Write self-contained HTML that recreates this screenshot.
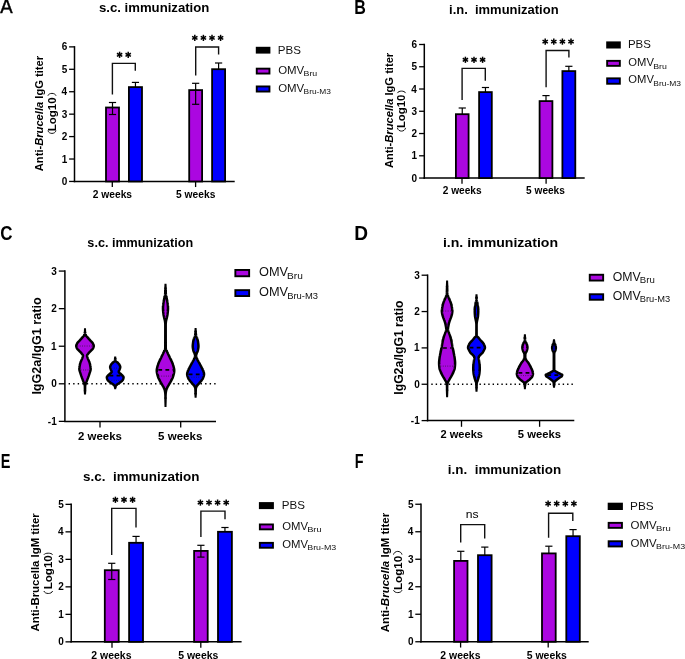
<!DOCTYPE html><html><head><meta charset="utf-8"><style>html,body{margin:0;padding:0;background:#fff;overflow:hidden}svg{display:block;will-change:transform}</style></head><body>
<svg width="685" height="659" viewBox="0 0 685 659" font-family="'Liberation Sans', sans-serif" style="font-kerning:none">
<rect width="685" height="659" fill="#fff"/>
<line x1="74.50" y1="46.12" x2="74.50" y2="182.20" stroke="#000" stroke-width="1.5" />
<line x1="73.75" y1="181.45" x2="234.70" y2="181.45" stroke="#000" stroke-width="1.5" />
<line x1="69.10" y1="181.45" x2="74.50" y2="181.45" stroke="#000" stroke-width="1.3" />
<text x="61.80" y="185.03" font-size="10" font-weight="bold" fill="#000"  xml:space="preserve">0</text>
<line x1="69.10" y1="159.02" x2="74.50" y2="159.02" stroke="#000" stroke-width="1.3" />
<text x="61.70" y="162.60" font-size="10" font-weight="bold" fill="#000"  xml:space="preserve">1</text>
<line x1="69.10" y1="136.59" x2="74.50" y2="136.59" stroke="#000" stroke-width="1.3" />
<text x="61.80" y="140.17" font-size="10" font-weight="bold" fill="#000"  xml:space="preserve">2</text>
<line x1="69.10" y1="114.16" x2="74.50" y2="114.16" stroke="#000" stroke-width="1.3" />
<text x="61.80" y="117.74" font-size="10" font-weight="bold" fill="#000"  xml:space="preserve">3</text>
<line x1="69.10" y1="91.73" x2="74.50" y2="91.73" stroke="#000" stroke-width="1.3" />
<text x="61.50" y="95.31" font-size="10" font-weight="bold" fill="#000"  xml:space="preserve">4</text>
<line x1="69.10" y1="69.30" x2="74.50" y2="69.30" stroke="#000" stroke-width="1.3" />
<text x="61.70" y="72.88" font-size="10" font-weight="bold" fill="#000"  xml:space="preserve">5</text>
<line x1="69.10" y1="46.87" x2="74.50" y2="46.87" stroke="#000" stroke-width="1.3" />
<text x="61.80" y="50.45" font-size="10" font-weight="bold" fill="#000"  xml:space="preserve">6</text>
<line x1="112.30" y1="181.45" x2="112.30" y2="187.05" stroke="#000" stroke-width="1.3" />
<line x1="195.60" y1="181.45" x2="195.60" y2="187.05" stroke="#000" stroke-width="1.3" />
<text x="92.79" y="197.80" font-size="10" font-weight="bold" textLength="39.28" lengthAdjust="spacingAndGlyphs" fill="#000"  xml:space="preserve">2 weeks</text>
<text x="176.09" y="197.80" font-size="10" font-weight="bold" textLength="39.28" lengthAdjust="spacingAndGlyphs" fill="#000"  xml:space="preserve">5 weeks</text>
<rect x="106.00" y="107.50" width="13.00" height="73.95" fill="#AB07E0" stroke="#000" stroke-width="1.8"/>
<line x1="112.50" y1="102.50" x2="112.50" y2="107.60" stroke="#000" stroke-width="1.2" />
<line x1="108.90" y1="102.50" x2="116.10" y2="102.50" stroke="#000" stroke-width="1.2" />
<line x1="112.50" y1="106.60" x2="112.50" y2="114.50" stroke="#000" stroke-width="1.2" />
<line x1="108.90" y1="114.50" x2="116.10" y2="114.50" stroke="#000" stroke-width="1.2" />
<rect x="128.90" y="87.10" width="13.10" height="94.35" fill="#0000FF" stroke="#000" stroke-width="1.8"/>
<line x1="135.45" y1="82.40" x2="135.45" y2="87.20" stroke="#000" stroke-width="1.2" />
<line x1="131.85" y1="82.40" x2="139.05" y2="82.40" stroke="#000" stroke-width="1.2" />
<rect x="189.20" y="90.10" width="12.90" height="91.35" fill="#AB07E0" stroke="#000" stroke-width="1.8"/>
<line x1="195.65" y1="83.30" x2="195.65" y2="90.20" stroke="#000" stroke-width="1.2" />
<line x1="192.05" y1="83.30" x2="199.25" y2="83.30" stroke="#000" stroke-width="1.2" />
<line x1="195.65" y1="89.20" x2="195.65" y2="104.30" stroke="#000" stroke-width="1.2" />
<line x1="192.05" y1="104.30" x2="199.25" y2="104.30" stroke="#000" stroke-width="1.2" />
<rect x="212.10" y="69.20" width="13.00" height="112.25" fill="#0000FF" stroke="#000" stroke-width="1.8"/>
<line x1="218.60" y1="63.00" x2="218.60" y2="69.30" stroke="#000" stroke-width="1.2" />
<line x1="215.00" y1="63.00" x2="222.20" y2="63.00" stroke="#000" stroke-width="1.2" />
<polyline points="112.40,94.40 112.40,63.40 135.30,63.40 135.30,70.80" fill="none" stroke="#111" stroke-width="1.4"/>
<line x1="119.60" y1="51.70" x2="119.60" y2="57.90" stroke="#000" stroke-width="1.5" />
<line x1="116.92" y1="53.25" x2="122.28" y2="56.35" stroke="#000" stroke-width="1.5" />
<line x1="122.28" y1="53.25" x2="116.92" y2="56.35" stroke="#000" stroke-width="1.5" />
<line x1="128.20" y1="51.70" x2="128.20" y2="57.90" stroke="#000" stroke-width="1.5" />
<line x1="125.52" y1="53.25" x2="130.88" y2="56.35" stroke="#000" stroke-width="1.5" />
<line x1="130.88" y1="53.25" x2="125.52" y2="56.35" stroke="#000" stroke-width="1.5" />
<polyline points="195.70,75.60 195.70,47.00 218.60,47.00 218.60,54.60" fill="none" stroke="#111" stroke-width="1.4"/>
<line x1="194.80" y1="34.80" x2="194.80" y2="41.00" stroke="#000" stroke-width="1.5" />
<line x1="192.12" y1="36.35" x2="197.48" y2="39.45" stroke="#000" stroke-width="1.5" />
<line x1="197.48" y1="36.35" x2="192.12" y2="39.45" stroke="#000" stroke-width="1.5" />
<line x1="203.40" y1="34.80" x2="203.40" y2="41.00" stroke="#000" stroke-width="1.5" />
<line x1="200.72" y1="36.35" x2="206.08" y2="39.45" stroke="#000" stroke-width="1.5" />
<line x1="206.08" y1="36.35" x2="200.72" y2="39.45" stroke="#000" stroke-width="1.5" />
<line x1="212.00" y1="34.80" x2="212.00" y2="41.00" stroke="#000" stroke-width="1.5" />
<line x1="209.32" y1="36.35" x2="214.68" y2="39.45" stroke="#000" stroke-width="1.5" />
<line x1="214.68" y1="36.35" x2="209.32" y2="39.45" stroke="#000" stroke-width="1.5" />
<line x1="220.60" y1="34.80" x2="220.60" y2="41.00" stroke="#000" stroke-width="1.5" />
<line x1="217.92" y1="36.35" x2="223.28" y2="39.45" stroke="#000" stroke-width="1.5" />
<line x1="223.28" y1="36.35" x2="217.92" y2="39.45" stroke="#000" stroke-width="1.5" />
<text x="98.96" y="12.40" font-size="12" font-weight="bold" textLength="110.39" lengthAdjust="spacingAndGlyphs" fill="#000"  xml:space="preserve">s.c. immunization</text>
<rect x="256.75" y="47.75" width="12.70" height="4.90" fill="#000" stroke="#000" stroke-width="1.9"/>
<rect x="256.75" y="68.65" width="12.70" height="4.90" fill="#AB07E0" stroke="#000" stroke-width="1.9"/>
<rect x="256.75" y="86.45" width="12.70" height="5.10" fill="#0000FF" stroke="#000" stroke-width="1.9"/>
<text x="277.75" y="53.80" font-size="11" textLength="23.19" lengthAdjust="spacingAndGlyphs" fill="#111"  xml:space="preserve">PBS</text>
<text x="278.18" y="73.70" font-size="11" textLength="26.08" lengthAdjust="spacingAndGlyphs" fill="#111"  xml:space="preserve">OMV</text>
<text x="303.54" y="76.10" font-size="8" textLength="13.66" lengthAdjust="spacingAndGlyphs" fill="#111"  xml:space="preserve">Bru</text>
<text x="278.18" y="91.70" font-size="11" textLength="26.08" lengthAdjust="spacingAndGlyphs" fill="#111"  xml:space="preserve">OMV</text>
<text x="303.57" y="93.60" font-size="8" textLength="27.37" lengthAdjust="spacingAndGlyphs" fill="#111"  xml:space="preserve">Bru-M3</text>
<g transform="rotate(-90)">
<text x="-171.20" y="42.90" font-size="11" font-weight="bold" textLength="25.41" lengthAdjust="spacingAndGlyphs" fill="#000"  xml:space="preserve">Anti-</text>
<text x="-145.80" y="42.90" font-size="11" font-weight="bold" font-style="italic" textLength="44.04" lengthAdjust="spacingAndGlyphs" fill="#000"  xml:space="preserve">Brucella</text>
<text x="-101.76" y="42.90" font-size="11" font-weight="bold" textLength="45.88" lengthAdjust="spacingAndGlyphs" fill="#000"  xml:space="preserve"> IgG titer</text>
</g>
<g transform="rotate(-90)">
<text x="-131.23" y="56.10" font-size="11" font-weight="bold" textLength="33.74" lengthAdjust="spacingAndGlyphs" fill="#000"  xml:space="preserve">Log10</text>
</g>
<path d="M47.90,95.70 C48.87,92.63 55.03,92.63 56.00,95.70" fill="none" stroke="#111" stroke-width="1.0"/>
<path d="M47.90,130.60 C48.87,134.33 55.03,134.33 56.00,130.60" fill="none" stroke="#111" stroke-width="1.0"/>
<line x1="424.30" y1="43.74" x2="424.30" y2="178.80" stroke="#000" stroke-width="1.5" />
<line x1="423.55" y1="178.05" x2="584.70" y2="178.05" stroke="#000" stroke-width="1.5" />
<line x1="419.10" y1="178.05" x2="424.30" y2="178.05" stroke="#000" stroke-width="1.3" />
<text x="411.60" y="181.63" font-size="10" font-weight="bold" fill="#000"  xml:space="preserve">0</text>
<line x1="419.10" y1="155.79" x2="424.30" y2="155.79" stroke="#000" stroke-width="1.3" />
<text x="411.50" y="159.37" font-size="10" font-weight="bold" fill="#000"  xml:space="preserve">1</text>
<line x1="419.10" y1="133.53" x2="424.30" y2="133.53" stroke="#000" stroke-width="1.3" />
<text x="411.60" y="137.11" font-size="10" font-weight="bold" fill="#000"  xml:space="preserve">2</text>
<line x1="419.10" y1="111.27" x2="424.30" y2="111.27" stroke="#000" stroke-width="1.3" />
<text x="411.60" y="114.85" font-size="10" font-weight="bold" fill="#000"  xml:space="preserve">3</text>
<line x1="419.10" y1="89.01" x2="424.30" y2="89.01" stroke="#000" stroke-width="1.3" />
<text x="411.30" y="92.59" font-size="10" font-weight="bold" fill="#000"  xml:space="preserve">4</text>
<line x1="419.10" y1="66.75" x2="424.30" y2="66.75" stroke="#000" stroke-width="1.3" />
<text x="411.50" y="70.33" font-size="10" font-weight="bold" fill="#000"  xml:space="preserve">5</text>
<line x1="419.10" y1="44.49" x2="424.30" y2="44.49" stroke="#000" stroke-width="1.3" />
<text x="411.60" y="48.07" font-size="10" font-weight="bold" fill="#000"  xml:space="preserve">6</text>
<line x1="462.00" y1="178.05" x2="462.00" y2="183.65" stroke="#000" stroke-width="1.3" />
<line x1="546.10" y1="178.05" x2="546.10" y2="183.65" stroke="#000" stroke-width="1.3" />
<text x="442.70" y="193.90" font-size="10" font-weight="bold" textLength="38.87" lengthAdjust="spacingAndGlyphs" fill="#000"  xml:space="preserve">2 weeks</text>
<text x="526.10" y="193.90" font-size="10" font-weight="bold" textLength="38.77" lengthAdjust="spacingAndGlyphs" fill="#000"  xml:space="preserve">5 weeks</text>
<rect x="455.90" y="114.20" width="12.70" height="63.85" fill="#AB07E0" stroke="#000" stroke-width="1.8"/>
<line x1="462.25" y1="108.00" x2="462.25" y2="114.30" stroke="#000" stroke-width="1.2" />
<line x1="458.65" y1="108.00" x2="465.85" y2="108.00" stroke="#000" stroke-width="1.2" />
<rect x="479.10" y="92.10" width="12.70" height="85.95" fill="#0000FF" stroke="#000" stroke-width="1.8"/>
<line x1="485.45" y1="87.50" x2="485.45" y2="92.20" stroke="#000" stroke-width="1.2" />
<line x1="481.85" y1="87.50" x2="489.05" y2="87.50" stroke="#000" stroke-width="1.2" />
<rect x="539.60" y="101.10" width="12.80" height="76.95" fill="#AB07E0" stroke="#000" stroke-width="1.8"/>
<line x1="546.00" y1="95.60" x2="546.00" y2="101.20" stroke="#000" stroke-width="1.2" />
<line x1="542.40" y1="95.60" x2="549.60" y2="95.60" stroke="#000" stroke-width="1.2" />
<rect x="562.40" y="71.10" width="12.90" height="106.95" fill="#0000FF" stroke="#000" stroke-width="1.8"/>
<line x1="568.85" y1="66.30" x2="568.85" y2="71.20" stroke="#000" stroke-width="1.2" />
<line x1="565.25" y1="66.30" x2="572.45" y2="66.30" stroke="#000" stroke-width="1.2" />
<polyline points="462.10,100.00 462.10,68.40 485.30,68.40 485.30,80.70" fill="none" stroke="#111" stroke-width="1.4"/>
<line x1="465.40" y1="56.70" x2="465.40" y2="62.90" stroke="#000" stroke-width="1.5" />
<line x1="462.72" y1="58.25" x2="468.08" y2="61.35" stroke="#000" stroke-width="1.5" />
<line x1="468.08" y1="58.25" x2="462.72" y2="61.35" stroke="#000" stroke-width="1.5" />
<line x1="474.00" y1="56.70" x2="474.00" y2="62.90" stroke="#000" stroke-width="1.5" />
<line x1="471.32" y1="58.25" x2="476.68" y2="61.35" stroke="#000" stroke-width="1.5" />
<line x1="476.68" y1="58.25" x2="471.32" y2="61.35" stroke="#000" stroke-width="1.5" />
<line x1="482.60" y1="56.70" x2="482.60" y2="62.90" stroke="#000" stroke-width="1.5" />
<line x1="479.92" y1="58.25" x2="485.28" y2="61.35" stroke="#000" stroke-width="1.5" />
<line x1="485.28" y1="58.25" x2="479.92" y2="61.35" stroke="#000" stroke-width="1.5" />
<polyline points="546.10,87.30 546.10,50.50 568.90,50.50 568.90,57.60" fill="none" stroke="#111" stroke-width="1.4"/>
<line x1="545.20" y1="38.50" x2="545.20" y2="44.70" stroke="#000" stroke-width="1.5" />
<line x1="542.52" y1="40.05" x2="547.88" y2="43.15" stroke="#000" stroke-width="1.5" />
<line x1="547.88" y1="40.05" x2="542.52" y2="43.15" stroke="#000" stroke-width="1.5" />
<line x1="553.80" y1="38.50" x2="553.80" y2="44.70" stroke="#000" stroke-width="1.5" />
<line x1="551.12" y1="40.05" x2="556.48" y2="43.15" stroke="#000" stroke-width="1.5" />
<line x1="556.48" y1="40.05" x2="551.12" y2="43.15" stroke="#000" stroke-width="1.5" />
<line x1="562.40" y1="38.50" x2="562.40" y2="44.70" stroke="#000" stroke-width="1.5" />
<line x1="559.72" y1="40.05" x2="565.08" y2="43.15" stroke="#000" stroke-width="1.5" />
<line x1="565.08" y1="40.05" x2="559.72" y2="43.15" stroke="#000" stroke-width="1.5" />
<line x1="571.00" y1="38.50" x2="571.00" y2="44.70" stroke="#000" stroke-width="1.5" />
<line x1="568.32" y1="40.05" x2="573.68" y2="43.15" stroke="#000" stroke-width="1.5" />
<line x1="573.68" y1="40.05" x2="568.32" y2="43.15" stroke="#000" stroke-width="1.5" />
<text x="449.04" y="13.60" font-size="12" font-weight="bold" textLength="109.56" lengthAdjust="spacingAndGlyphs" fill="#000"  xml:space="preserve">i.n.  immunization</text>
<rect x="607.15" y="42.35" width="12.70" height="5.20" fill="#000" stroke="#000" stroke-width="1.9"/>
<rect x="607.15" y="60.85" width="12.70" height="5.00" fill="#AB07E0" stroke="#000" stroke-width="1.9"/>
<rect x="607.15" y="78.35" width="12.70" height="5.40" fill="#0000FF" stroke="#000" stroke-width="1.9"/>
<text x="627.96" y="48.30" font-size="11" textLength="22.97" lengthAdjust="spacingAndGlyphs" fill="#111"  xml:space="preserve">PBS</text>
<text x="628.39" y="66.00" font-size="11" textLength="25.57" lengthAdjust="spacingAndGlyphs" fill="#111"  xml:space="preserve">OMV</text>
<text x="653.24" y="68.50" font-size="8" textLength="13.66" lengthAdjust="spacingAndGlyphs" fill="#111"  xml:space="preserve">Bru</text>
<text x="628.39" y="83.40" font-size="11" textLength="25.57" lengthAdjust="spacingAndGlyphs" fill="#111"  xml:space="preserve">OMV</text>
<text x="653.27" y="85.70" font-size="8" textLength="27.68" lengthAdjust="spacingAndGlyphs" fill="#111"  xml:space="preserve">Bru-M3</text>
<g transform="rotate(-90)">
<text x="-168.10" y="392.80" font-size="11" font-weight="bold" textLength="25.41" lengthAdjust="spacingAndGlyphs" fill="#000"  xml:space="preserve">Anti-</text>
<text x="-142.70" y="392.80" font-size="11" font-weight="bold" font-style="italic" textLength="44.04" lengthAdjust="spacingAndGlyphs" fill="#000"  xml:space="preserve">Brucella</text>
<text x="-98.66" y="392.80" font-size="11" font-weight="bold" textLength="45.88" lengthAdjust="spacingAndGlyphs" fill="#000"  xml:space="preserve"> IgG titer</text>
</g>
<g transform="rotate(-90)">
<text x="-128.12" y="405.40" font-size="11" font-weight="bold" textLength="33.53" lengthAdjust="spacingAndGlyphs" fill="#000"  xml:space="preserve">Log10</text>
</g>
<path d="M397.40,93.10 C398.38,90.43 404.62,90.43 405.60,93.10" fill="none" stroke="#111" stroke-width="1.0"/>
<path d="M397.40,127.90 C398.38,132.17 404.62,132.17 405.60,127.90" fill="none" stroke="#111" stroke-width="1.0"/>
<line x1="71.20" y1="503.60" x2="71.20" y2="642.60" stroke="#000" stroke-width="1.5" />
<line x1="70.45" y1="641.85" x2="241.60" y2="641.85" stroke="#000" stroke-width="1.5" />
<line x1="65.50" y1="641.85" x2="71.20" y2="641.85" stroke="#000" stroke-width="1.3" />
<text x="58.30" y="645.43" font-size="10" font-weight="bold" fill="#000"  xml:space="preserve">0</text>
<line x1="65.50" y1="614.35" x2="71.20" y2="614.35" stroke="#000" stroke-width="1.3" />
<text x="58.20" y="617.93" font-size="10" font-weight="bold" fill="#000"  xml:space="preserve">1</text>
<line x1="65.50" y1="586.85" x2="71.20" y2="586.85" stroke="#000" stroke-width="1.3" />
<text x="58.30" y="590.43" font-size="10" font-weight="bold" fill="#000"  xml:space="preserve">2</text>
<line x1="65.50" y1="559.35" x2="71.20" y2="559.35" stroke="#000" stroke-width="1.3" />
<text x="58.30" y="562.93" font-size="10" font-weight="bold" fill="#000"  xml:space="preserve">3</text>
<line x1="65.50" y1="531.85" x2="71.20" y2="531.85" stroke="#000" stroke-width="1.3" />
<text x="58.00" y="535.43" font-size="10" font-weight="bold" fill="#000"  xml:space="preserve">4</text>
<line x1="65.50" y1="504.35" x2="71.20" y2="504.35" stroke="#000" stroke-width="1.3" />
<text x="58.20" y="507.93" font-size="10" font-weight="bold" fill="#000"  xml:space="preserve">5</text>
<line x1="112.00" y1="641.85" x2="112.00" y2="647.65" stroke="#000" stroke-width="1.3" />
<line x1="200.80" y1="641.85" x2="200.80" y2="647.65" stroke="#000" stroke-width="1.3" />
<text x="91.29" y="659.00" font-size="10" font-weight="bold" textLength="40.19" lengthAdjust="spacingAndGlyphs" fill="#000"  xml:space="preserve">2 weeks</text>
<text x="178.19" y="659.00" font-size="10" font-weight="bold" textLength="40.19" lengthAdjust="spacingAndGlyphs" fill="#000"  xml:space="preserve">5 weeks</text>
<rect x="104.80" y="570.20" width="13.90" height="71.65" fill="#AB07E0" stroke="#000" stroke-width="1.8"/>
<line x1="111.75" y1="563.30" x2="111.75" y2="570.30" stroke="#000" stroke-width="1.2" />
<line x1="108.15" y1="563.30" x2="115.35" y2="563.30" stroke="#000" stroke-width="1.2" />
<line x1="111.75" y1="569.30" x2="111.75" y2="579.50" stroke="#000" stroke-width="1.2" />
<line x1="108.15" y1="579.50" x2="115.35" y2="579.50" stroke="#000" stroke-width="1.2" />
<rect x="129.10" y="542.80" width="13.90" height="99.05" fill="#0000FF" stroke="#000" stroke-width="1.8"/>
<line x1="136.05" y1="536.40" x2="136.05" y2="542.90" stroke="#000" stroke-width="1.2" />
<line x1="132.45" y1="536.40" x2="139.65" y2="536.40" stroke="#000" stroke-width="1.2" />
<rect x="194.10" y="550.90" width="13.60" height="90.95" fill="#AB07E0" stroke="#000" stroke-width="1.8"/>
<line x1="200.90" y1="545.30" x2="200.90" y2="551.00" stroke="#000" stroke-width="1.2" />
<line x1="197.30" y1="545.30" x2="204.50" y2="545.30" stroke="#000" stroke-width="1.2" />
<line x1="200.90" y1="550.00" x2="200.90" y2="557.10" stroke="#000" stroke-width="1.2" />
<line x1="197.30" y1="557.10" x2="204.50" y2="557.10" stroke="#000" stroke-width="1.2" />
<rect x="218.00" y="531.80" width="13.90" height="110.05" fill="#0000FF" stroke="#000" stroke-width="1.8"/>
<line x1="224.95" y1="527.50" x2="224.95" y2="531.90" stroke="#000" stroke-width="1.2" />
<line x1="221.35" y1="527.50" x2="228.55" y2="527.50" stroke="#000" stroke-width="1.2" />
<polyline points="111.70,554.90 111.70,508.40 136.00,508.40 136.00,527.60" fill="none" stroke="#111" stroke-width="1.4"/>
<line x1="115.40" y1="496.70" x2="115.40" y2="502.90" stroke="#000" stroke-width="1.5" />
<line x1="112.72" y1="498.25" x2="118.08" y2="501.35" stroke="#000" stroke-width="1.5" />
<line x1="118.08" y1="498.25" x2="112.72" y2="501.35" stroke="#000" stroke-width="1.5" />
<line x1="124.00" y1="496.70" x2="124.00" y2="502.90" stroke="#000" stroke-width="1.5" />
<line x1="121.32" y1="498.25" x2="126.68" y2="501.35" stroke="#000" stroke-width="1.5" />
<line x1="126.68" y1="498.25" x2="121.32" y2="501.35" stroke="#000" stroke-width="1.5" />
<line x1="132.60" y1="496.70" x2="132.60" y2="502.90" stroke="#000" stroke-width="1.5" />
<line x1="129.92" y1="498.25" x2="135.28" y2="501.35" stroke="#000" stroke-width="1.5" />
<line x1="135.28" y1="498.25" x2="129.92" y2="501.35" stroke="#000" stroke-width="1.5" />
<polyline points="200.90,537.10 200.90,511.10 225.00,511.10 225.00,519.30" fill="none" stroke="#111" stroke-width="1.4"/>
<line x1="200.40" y1="499.50" x2="200.40" y2="505.70" stroke="#000" stroke-width="1.5" />
<line x1="197.72" y1="501.05" x2="203.08" y2="504.15" stroke="#000" stroke-width="1.5" />
<line x1="203.08" y1="501.05" x2="197.72" y2="504.15" stroke="#000" stroke-width="1.5" />
<line x1="209.00" y1="499.50" x2="209.00" y2="505.70" stroke="#000" stroke-width="1.5" />
<line x1="206.32" y1="501.05" x2="211.68" y2="504.15" stroke="#000" stroke-width="1.5" />
<line x1="211.68" y1="501.05" x2="206.32" y2="504.15" stroke="#000" stroke-width="1.5" />
<line x1="217.60" y1="499.50" x2="217.60" y2="505.70" stroke="#000" stroke-width="1.5" />
<line x1="214.92" y1="501.05" x2="220.28" y2="504.15" stroke="#000" stroke-width="1.5" />
<line x1="220.28" y1="501.05" x2="214.92" y2="504.15" stroke="#000" stroke-width="1.5" />
<line x1="226.20" y1="499.50" x2="226.20" y2="505.70" stroke="#000" stroke-width="1.5" />
<line x1="223.52" y1="501.05" x2="228.88" y2="504.15" stroke="#000" stroke-width="1.5" />
<line x1="228.88" y1="501.05" x2="223.52" y2="504.15" stroke="#000" stroke-width="1.5" />
<text x="83.08" y="480.90" font-size="13" font-weight="bold" textLength="116.43" lengthAdjust="spacingAndGlyphs" fill="#000"  xml:space="preserve">s.c.  immunization</text>
<rect x="259.85" y="503.05" width="13.10" height="5.10" fill="#000" stroke="#000" stroke-width="1.9"/>
<rect x="259.85" y="524.45" width="13.10" height="4.90" fill="#AB07E0" stroke="#000" stroke-width="1.9"/>
<rect x="259.85" y="542.85" width="13.10" height="4.90" fill="#0000FF" stroke="#000" stroke-width="1.9"/>
<text x="281.75" y="509.10" font-size="11" textLength="23.19" lengthAdjust="spacingAndGlyphs" fill="#111"  xml:space="preserve">PBS</text>
<text x="282.19" y="529.70" font-size="11" textLength="25.77" lengthAdjust="spacingAndGlyphs" fill="#111"  xml:space="preserve">OMV</text>
<text x="307.20" y="531.90" font-size="8" textLength="14.43" lengthAdjust="spacingAndGlyphs" fill="#111"  xml:space="preserve">Bru</text>
<text x="282.19" y="547.70" font-size="11" textLength="25.77" lengthAdjust="spacingAndGlyphs" fill="#111"  xml:space="preserve">OMV</text>
<text x="307.24" y="549.60" font-size="8" textLength="29.03" lengthAdjust="spacingAndGlyphs" fill="#111"  xml:space="preserve">Bru-M3</text>
<g transform="rotate(-90)">
<text x="-631.44" y="38.80" font-size="10" font-weight="bold" textLength="118.24" lengthAdjust="spacingAndGlyphs" fill="#000"  xml:space="preserve">Anti-Brucella IgM titer</text>
</g>
<g transform="rotate(-90)">
<text x="-589.34" y="52.10" font-size="11" font-weight="bold" textLength="34.15" lengthAdjust="spacingAndGlyphs" fill="#000"  xml:space="preserve">Log10</text>
</g>
<path d="M43.90,554.70 C44.94,552.70 51.56,552.70 52.60,554.70" fill="none" stroke="#111" stroke-width="1.0"/>
<path d="M43.90,591.00 C44.94,594.33 51.56,594.33 52.60,591.00" fill="none" stroke="#111" stroke-width="1.0"/>
<line x1="421.00" y1="503.50" x2="421.00" y2="642.50" stroke="#000" stroke-width="1.5" />
<line x1="420.25" y1="641.75" x2="588.70" y2="641.75" stroke="#000" stroke-width="1.5" />
<line x1="415.30" y1="641.75" x2="421.00" y2="641.75" stroke="#000" stroke-width="1.3" />
<text x="408.10" y="645.33" font-size="10" font-weight="bold" fill="#000"  xml:space="preserve">0</text>
<line x1="415.30" y1="614.25" x2="421.00" y2="614.25" stroke="#000" stroke-width="1.3" />
<text x="408.00" y="617.83" font-size="10" font-weight="bold" fill="#000"  xml:space="preserve">1</text>
<line x1="415.30" y1="586.75" x2="421.00" y2="586.75" stroke="#000" stroke-width="1.3" />
<text x="408.10" y="590.33" font-size="10" font-weight="bold" fill="#000"  xml:space="preserve">2</text>
<line x1="415.30" y1="559.25" x2="421.00" y2="559.25" stroke="#000" stroke-width="1.3" />
<text x="408.10" y="562.83" font-size="10" font-weight="bold" fill="#000"  xml:space="preserve">3</text>
<line x1="415.30" y1="531.75" x2="421.00" y2="531.75" stroke="#000" stroke-width="1.3" />
<text x="407.80" y="535.33" font-size="10" font-weight="bold" fill="#000"  xml:space="preserve">4</text>
<line x1="415.30" y1="504.25" x2="421.00" y2="504.25" stroke="#000" stroke-width="1.3" />
<text x="408.00" y="507.83" font-size="10" font-weight="bold" fill="#000"  xml:space="preserve">5</text>
<line x1="460.60" y1="641.75" x2="460.60" y2="647.55" stroke="#000" stroke-width="1.3" />
<line x1="548.20" y1="641.75" x2="548.20" y2="647.55" stroke="#000" stroke-width="1.3" />
<text x="440.39" y="659.00" font-size="10" font-weight="bold" textLength="40.09" lengthAdjust="spacingAndGlyphs" fill="#000"  xml:space="preserve">2 weeks</text>
<text x="526.69" y="659.00" font-size="10" font-weight="bold" textLength="40.19" lengthAdjust="spacingAndGlyphs" fill="#000"  xml:space="preserve">5 weeks</text>
<rect x="454.10" y="560.90" width="13.40" height="80.85" fill="#AB07E0" stroke="#000" stroke-width="1.8"/>
<line x1="460.80" y1="551.30" x2="460.80" y2="561.00" stroke="#000" stroke-width="1.2" />
<line x1="457.20" y1="551.30" x2="464.40" y2="551.30" stroke="#000" stroke-width="1.2" />
<rect x="478.00" y="555.20" width="13.60" height="86.55" fill="#0000FF" stroke="#000" stroke-width="1.8"/>
<line x1="484.80" y1="547.10" x2="484.80" y2="555.30" stroke="#000" stroke-width="1.2" />
<line x1="481.20" y1="547.10" x2="488.40" y2="547.10" stroke="#000" stroke-width="1.2" />
<rect x="542.00" y="553.40" width="13.70" height="88.35" fill="#AB07E0" stroke="#000" stroke-width="1.8"/>
<line x1="548.85" y1="546.20" x2="548.85" y2="553.50" stroke="#000" stroke-width="1.2" />
<line x1="545.25" y1="546.20" x2="552.45" y2="546.20" stroke="#000" stroke-width="1.2" />
<rect x="566.30" y="536.20" width="13.50" height="105.55" fill="#0000FF" stroke="#000" stroke-width="1.8"/>
<line x1="573.05" y1="529.60" x2="573.05" y2="536.30" stroke="#000" stroke-width="1.2" />
<line x1="569.45" y1="529.60" x2="576.65" y2="529.60" stroke="#000" stroke-width="1.2" />
<polyline points="460.70,542.60 460.70,524.60 484.70,524.60 484.70,538.50" fill="none" stroke="#111" stroke-width="1.4"/>
<text x="465.83" y="517.70" font-size="11" textLength="12.83" lengthAdjust="spacingAndGlyphs" fill="#000"  xml:space="preserve">ns</text>
<polyline points="548.60,537.70 548.60,513.20 572.80,513.20 572.80,521.10" fill="none" stroke="#111" stroke-width="1.4"/>
<line x1="548.10" y1="500.50" x2="548.10" y2="506.70" stroke="#000" stroke-width="1.5" />
<line x1="545.42" y1="502.05" x2="550.78" y2="505.15" stroke="#000" stroke-width="1.5" />
<line x1="550.78" y1="502.05" x2="545.42" y2="505.15" stroke="#000" stroke-width="1.5" />
<line x1="556.70" y1="500.50" x2="556.70" y2="506.70" stroke="#000" stroke-width="1.5" />
<line x1="554.02" y1="502.05" x2="559.38" y2="505.15" stroke="#000" stroke-width="1.5" />
<line x1="559.38" y1="502.05" x2="554.02" y2="505.15" stroke="#000" stroke-width="1.5" />
<line x1="565.30" y1="500.50" x2="565.30" y2="506.70" stroke="#000" stroke-width="1.5" />
<line x1="562.62" y1="502.05" x2="567.98" y2="505.15" stroke="#000" stroke-width="1.5" />
<line x1="567.98" y1="502.05" x2="562.62" y2="505.15" stroke="#000" stroke-width="1.5" />
<line x1="573.90" y1="500.50" x2="573.90" y2="506.70" stroke="#000" stroke-width="1.5" />
<line x1="571.22" y1="502.05" x2="576.58" y2="505.15" stroke="#000" stroke-width="1.5" />
<line x1="576.58" y1="502.05" x2="571.22" y2="505.15" stroke="#000" stroke-width="1.5" />
<text x="447.87" y="474.10" font-size="13" font-weight="bold" textLength="113.24" lengthAdjust="spacingAndGlyphs" fill="#000"  xml:space="preserve">i.n.  immunization</text>
<rect x="608.65" y="503.65" width="13.30" height="5.40" fill="#000" stroke="#000" stroke-width="1.9"/>
<rect x="608.65" y="522.85" width="13.30" height="5.00" fill="#AB07E0" stroke="#000" stroke-width="1.9"/>
<rect x="608.65" y="541.25" width="13.30" height="5.20" fill="#0000FF" stroke="#000" stroke-width="1.9"/>
<text x="630.13" y="509.80" font-size="11" textLength="23.62" lengthAdjust="spacingAndGlyphs" fill="#111"  xml:space="preserve">PBS</text>
<text x="630.58" y="528.60" font-size="11" textLength="26.18" lengthAdjust="spacingAndGlyphs" fill="#111"  xml:space="preserve">OMV</text>
<text x="655.99" y="530.60" font-size="8" textLength="14.76" lengthAdjust="spacingAndGlyphs" fill="#111"  xml:space="preserve">Bru</text>
<text x="630.58" y="546.60" font-size="11" textLength="26.18" lengthAdjust="spacingAndGlyphs" fill="#111"  xml:space="preserve">OMV</text>
<text x="656.04" y="549.00" font-size="8" textLength="29.03" lengthAdjust="spacingAndGlyphs" fill="#111"  xml:space="preserve">Bru-M3</text>
<g transform="rotate(-90)">
<text x="-632.35" y="388.60" font-size="10" font-weight="bold" textLength="26.19" lengthAdjust="spacingAndGlyphs" fill="#000"  xml:space="preserve">Anti-</text>
<text x="-606.15" y="388.60" font-size="10" font-weight="bold" font-style="italic" textLength="45.40" lengthAdjust="spacingAndGlyphs" fill="#000"  xml:space="preserve">Brucella</text>
<text x="-560.76" y="388.60" font-size="10" font-weight="bold" textLength="47.93" lengthAdjust="spacingAndGlyphs" fill="#000"  xml:space="preserve"> IgM titer</text>
</g>
<g transform="rotate(-90)">
<text x="-590.04" y="401.80" font-size="11" font-weight="bold" textLength="34.15" lengthAdjust="spacingAndGlyphs" fill="#000"  xml:space="preserve">Log10</text>
</g>
<path d="M393.50,554.60 C394.52,550.33 400.98,550.33 402.00,554.60" fill="none" stroke="#111" stroke-width="1.0"/>
<path d="M393.50,590.20 C394.52,593.40 400.98,593.40 402.00,590.20" fill="none" stroke="#111" stroke-width="1.0"/>
<line x1="64.90" y1="270.32" x2="64.90" y2="422.12" stroke="#000" stroke-width="1.5" />
<line x1="64.15" y1="421.38" x2="216.00" y2="421.38" stroke="#000" stroke-width="1.5" />
<line x1="58.80" y1="421.38" x2="64.90" y2="421.38" stroke="#000" stroke-width="1.3" />
<text x="47.80" y="424.95" font-size="10" font-weight="bold" fill="#000"  xml:space="preserve">-1</text>
<line x1="58.80" y1="383.80" x2="64.90" y2="383.80" stroke="#000" stroke-width="1.3" />
<text x="51.20" y="387.38" font-size="10" font-weight="bold" fill="#000"  xml:space="preserve">0</text>
<line x1="58.80" y1="346.23" x2="64.90" y2="346.23" stroke="#000" stroke-width="1.3" />
<text x="51.10" y="349.81" font-size="10" font-weight="bold" fill="#000"  xml:space="preserve">1</text>
<line x1="58.80" y1="308.65" x2="64.90" y2="308.65" stroke="#000" stroke-width="1.3" />
<text x="51.20" y="312.23" font-size="10" font-weight="bold" fill="#000"  xml:space="preserve">2</text>
<line x1="58.80" y1="271.07" x2="64.90" y2="271.07" stroke="#000" stroke-width="1.3" />
<text x="51.20" y="274.65" font-size="10" font-weight="bold" fill="#000"  xml:space="preserve">3</text>
<line x1="100.00" y1="421.38" x2="100.00" y2="427.57" stroke="#000" stroke-width="1.3" />
<line x1="180.70" y1="421.38" x2="180.70" y2="427.57" stroke="#000" stroke-width="1.3" />
<text x="78.09" y="439.80" font-size="11" font-weight="bold" textLength="43.73" lengthAdjust="spacingAndGlyphs" fill="#000"  xml:space="preserve">2 weeks</text>
<text x="158.09" y="439.80" font-size="11" font-weight="bold" textLength="44.23" lengthAdjust="spacingAndGlyphs" fill="#000"  xml:space="preserve">5 weeks</text>
<line x1="68.60" y1="383.80" x2="216.00" y2="383.80" stroke="#000" stroke-width="1.4" stroke-dasharray="1.4 3.15"/>
<path d="M86.00,328.20 L86.01,328.45 L86.02,328.70 L86.03,328.95 L86.04,329.20 L86.05,329.45 L86.07,329.70 L86.08,329.95 L86.10,330.20 L86.11,330.45 L86.13,330.70 L86.15,330.95 L86.16,331.20 L86.18,331.45 L86.20,331.70 L86.22,331.95 L86.24,332.20 L86.26,332.45 L86.27,332.70 L86.27,332.95 L83.73,332.95 L83.73,332.70 L83.74,332.45 L83.76,332.20 L83.78,331.95 L83.80,331.70 L83.82,331.45 L83.84,331.20 L83.85,330.95 L83.87,330.70 L83.89,330.45 L83.90,330.20 L83.92,329.95 L83.93,329.70 L83.95,329.45 L83.96,329.20 L83.97,328.95 L83.98,328.70 L83.99,328.45 L84.00,328.20 Z" fill="#000"/>
<path d="M86.27,390.45 L86.27,390.70 L86.26,390.95 L86.24,391.20 L86.23,391.45 L86.22,391.70 L86.20,391.95 L86.18,392.20 L86.17,392.45 L86.15,392.70 L86.13,392.95 L86.11,393.20 L86.09,393.45 L86.07,393.70 L86.05,393.95 L86.03,394.20 L86.00,394.45 L86.00,394.50 L84.00,394.50 L84.00,394.45 L83.97,394.20 L83.95,393.95 L83.93,393.70 L83.91,393.45 L83.89,393.20 L83.87,392.95 L83.85,392.70 L83.83,392.45 L83.82,392.20 L83.80,391.95 L83.78,391.70 L83.77,391.45 L83.76,391.20 L83.74,390.95 L83.73,390.70 L83.73,390.45 Z" fill="#000"/>
<path d="M85.04,332.70 L85.07,332.95 L85.10,333.20 L85.14,333.45 L85.19,333.70 L85.27,333.95 L85.36,334.20 L85.48,334.45 L85.60,334.70 L85.74,334.95 L85.88,335.20 L86.02,335.45 L86.17,335.70 L86.34,335.95 L86.52,336.20 L86.72,336.45 L86.92,336.70 L87.14,336.95 L87.35,337.20 L87.57,337.45 L87.79,337.70 L88.01,337.95 L88.22,338.20 L88.44,338.45 L88.66,338.70 L88.88,338.95 L89.11,339.20 L89.34,339.45 L89.57,339.70 L89.80,339.95 L90.03,340.20 L90.25,340.45 L90.48,340.70 L90.71,340.95 L90.93,341.20 L91.18,341.45 L91.43,341.70 L91.68,341.95 L91.93,342.20 L92.17,342.45 L92.40,342.70 L92.60,342.95 L92.78,343.20 L92.93,343.45 L93.04,343.70 L93.16,343.95 L93.27,344.20 L93.38,344.45 L93.48,344.70 L93.57,344.95 L93.64,345.20 L93.70,345.45 L93.73,345.70 L93.75,345.95 L93.74,346.20 L93.71,346.45 L93.66,346.70 L93.60,346.95 L93.51,347.20 L93.42,347.45 L93.32,347.70 L93.21,347.95 L93.09,348.20 L92.97,348.45 L92.84,348.70 L92.68,348.95 L92.49,349.20 L92.27,349.45 L92.04,349.70 L91.79,349.95 L91.54,350.20 L91.29,350.45 L91.04,350.70 L90.80,350.95 L90.56,351.20 L90.32,351.45 L90.06,351.70 L89.81,351.95 L89.55,352.20 L89.29,352.45 L89.05,352.70 L88.81,352.95 L88.59,353.20 L88.39,353.45 L88.19,353.70 L87.99,353.95 L87.78,354.20 L87.58,354.45 L87.40,354.70 L87.24,354.95 L87.13,355.20 L87.06,355.45 L87.05,355.70 L87.07,355.95 L87.11,356.20 L87.16,356.45 L87.23,356.70 L87.30,356.95 L87.38,357.20 L87.47,357.45 L87.55,357.70 L87.63,357.95 L87.72,358.20 L87.81,358.45 L87.91,358.70 L88.02,358.95 L88.14,359.20 L88.26,359.45 L88.38,359.70 L88.50,359.95 L88.61,360.20 L88.73,360.45 L88.83,360.70 L88.93,360.95 L89.02,361.20 L89.12,361.45 L89.21,361.70 L89.30,361.95 L89.39,362.20 L89.47,362.45 L89.56,362.70 L89.64,362.95 L89.72,363.20 L89.79,363.45 L89.86,363.70 L89.93,363.95 L89.99,364.20 L90.04,364.45 L90.09,364.70 L90.14,364.95 L90.19,365.20 L90.24,365.45 L90.29,365.70 L90.33,365.95 L90.38,366.20 L90.42,366.45 L90.46,366.70 L90.50,366.95 L90.54,367.20 L90.57,367.45 L90.59,367.70 L90.62,367.95 L90.63,368.20 L90.64,368.45 L90.65,368.70 L90.65,368.95 L90.64,369.20 L90.62,369.45 L90.58,369.70 L90.55,369.95 L90.50,370.20 L90.45,370.45 L90.39,370.70 L90.32,370.95 L90.25,371.20 L90.18,371.45 L90.10,371.70 L90.02,371.95 L89.94,372.20 L89.85,372.45 L89.77,372.70 L89.69,372.95 L89.60,373.20 L89.52,373.45 L89.44,373.70 L89.36,373.95 L89.29,374.20 L89.21,374.45 L89.13,374.70 L89.05,374.95 L88.96,375.20 L88.88,375.45 L88.79,375.70 L88.70,375.95 L88.61,376.20 L88.51,376.45 L88.42,376.70 L88.33,376.95 L88.23,377.20 L88.14,377.45 L88.04,377.70 L87.94,377.95 L87.85,378.20 L87.75,378.45 L87.66,378.70 L87.57,378.95 L87.48,379.20 L87.38,379.45 L87.29,379.70 L87.19,379.95 L87.09,380.20 L87.00,380.45 L86.90,380.70 L86.80,380.95 L86.70,381.20 L86.61,381.45 L86.51,381.70 L86.42,381.95 L86.33,382.20 L86.24,382.45 L86.15,382.70 L86.07,382.95 L85.98,383.20 L85.89,383.45 L85.80,383.70 L85.70,383.95 L85.60,384.20 L85.51,384.45 L85.42,384.70 L85.35,384.95 L85.28,385.20 L85.22,385.45 L85.18,385.70 L85.15,385.95 L85.14,386.20 L85.13,386.45 L85.12,386.70 L85.12,386.95 L85.11,387.20 L85.10,387.45 L85.10,387.70 L85.09,387.95 L85.09,388.20 L85.09,388.45 L85.08,388.70 L85.08,388.95 L85.07,389.20 L85.07,389.45 L85.06,389.70 L85.05,389.95 L85.04,390.20 L85.03,390.45 L85.02,390.70 L84.98,390.70 L84.97,390.45 L84.96,390.20 L84.95,389.95 L84.94,389.70 L84.93,389.45 L84.93,389.20 L84.92,388.95 L84.92,388.70 L84.91,388.45 L84.91,388.20 L84.91,387.95 L84.90,387.70 L84.90,387.45 L84.89,387.20 L84.88,386.95 L84.88,386.70 L84.87,386.45 L84.86,386.20 L84.85,385.95 L84.82,385.70 L84.78,385.45 L84.72,385.20 L84.65,384.95 L84.58,384.70 L84.49,384.45 L84.40,384.20 L84.30,383.95 L84.20,383.70 L84.11,383.45 L84.02,383.20 L83.93,382.95 L83.85,382.70 L83.76,382.45 L83.67,382.20 L83.58,381.95 L83.49,381.70 L83.39,381.45 L83.30,381.20 L83.20,380.95 L83.10,380.70 L83.00,380.45 L82.91,380.20 L82.81,379.95 L82.71,379.70 L82.62,379.45 L82.52,379.20 L82.43,378.95 L82.34,378.70 L82.25,378.45 L82.15,378.20 L82.06,377.95 L81.96,377.70 L81.86,377.45 L81.77,377.20 L81.67,376.95 L81.58,376.70 L81.49,376.45 L81.39,376.20 L81.30,375.95 L81.21,375.70 L81.12,375.45 L81.04,375.20 L80.95,374.95 L80.87,374.70 L80.79,374.45 L80.71,374.20 L80.64,373.95 L80.56,373.70 L80.48,373.45 L80.40,373.20 L80.31,372.95 L80.23,372.70 L80.15,372.45 L80.06,372.20 L79.98,371.95 L79.90,371.70 L79.82,371.45 L79.75,371.20 L79.68,370.95 L79.61,370.70 L79.55,370.45 L79.50,370.20 L79.45,369.95 L79.42,369.70 L79.38,369.45 L79.36,369.20 L79.35,368.95 L79.35,368.70 L79.36,368.45 L79.37,368.20 L79.38,367.95 L79.41,367.70 L79.43,367.45 L79.46,367.20 L79.50,366.95 L79.54,366.70 L79.58,366.45 L79.62,366.20 L79.67,365.95 L79.71,365.70 L79.76,365.45 L79.81,365.20 L79.86,364.95 L79.91,364.70 L79.96,364.45 L80.01,364.20 L80.07,363.95 L80.14,363.70 L80.21,363.45 L80.28,363.20 L80.36,362.95 L80.44,362.70 L80.53,362.45 L80.61,362.20 L80.70,361.95 L80.79,361.70 L80.88,361.45 L80.98,361.20 L81.07,360.95 L81.17,360.70 L81.27,360.45 L81.39,360.20 L81.50,359.95 L81.62,359.70 L81.74,359.45 L81.86,359.20 L81.98,358.95 L82.09,358.70 L82.19,358.45 L82.28,358.20 L82.37,357.95 L82.45,357.70 L82.53,357.45 L82.62,357.20 L82.70,356.95 L82.77,356.70 L82.84,356.45 L82.89,356.20 L82.93,355.95 L82.95,355.70 L82.94,355.45 L82.87,355.20 L82.76,354.95 L82.60,354.70 L82.42,354.45 L82.22,354.20 L82.01,353.95 L81.81,353.70 L81.61,353.45 L81.41,353.20 L81.19,352.95 L80.95,352.70 L80.71,352.45 L80.45,352.20 L80.19,351.95 L79.94,351.70 L79.68,351.45 L79.44,351.20 L79.20,350.95 L78.96,350.70 L78.71,350.45 L78.46,350.20 L78.21,349.95 L77.96,349.70 L77.73,349.45 L77.51,349.20 L77.32,348.95 L77.16,348.70 L77.03,348.45 L76.91,348.20 L76.79,347.95 L76.68,347.70 L76.58,347.45 L76.49,347.20 L76.40,346.95 L76.34,346.70 L76.29,346.45 L76.26,346.20 L76.25,345.95 L76.27,345.70 L76.30,345.45 L76.36,345.20 L76.43,344.95 L76.52,344.70 L76.62,344.45 L76.73,344.20 L76.84,343.95 L76.96,343.70 L77.07,343.45 L77.22,343.20 L77.40,342.95 L77.60,342.70 L77.83,342.45 L78.07,342.20 L78.32,341.95 L78.57,341.70 L78.82,341.45 L79.07,341.20 L79.29,340.95 L79.52,340.70 L79.75,340.45 L79.97,340.20 L80.20,339.95 L80.43,339.70 L80.66,339.45 L80.89,339.20 L81.12,338.95 L81.34,338.70 L81.56,338.45 L81.78,338.20 L81.99,337.95 L82.21,337.70 L82.43,337.45 L82.65,337.20 L82.86,336.95 L83.08,336.70 L83.28,336.45 L83.48,336.20 L83.66,335.95 L83.83,335.70 L83.98,335.45 L84.12,335.20 L84.26,334.95 L84.40,334.70 L84.52,334.45 L84.64,334.20 L84.73,333.95 L84.81,333.70 L84.86,333.45 L84.90,333.20 L84.93,332.95 L84.96,332.70 Z" fill="#AB07E0" stroke="#000" stroke-width="2.5" stroke-linejoin="round"/>
<line x1="77.50" y1="346.00" x2="92.50" y2="346.00" stroke="#222" stroke-width="0.8" stroke-dasharray="0.8 1.5"/>
<line x1="80.71" y1="370.00" x2="89.29" y2="370.00" stroke="#222" stroke-width="0.8" stroke-dasharray="0.8 1.5"/>
<path d="M116.20,356.50 L116.23,356.75 L116.25,357.00 L116.28,357.25 L116.31,357.50 L116.34,357.75 L116.37,358.00 L116.40,358.25 L116.43,358.50 L116.47,358.75 L116.47,359.00 L116.47,359.25 L113.93,359.25 L113.93,359.00 L113.93,358.75 L113.97,358.50 L114.00,358.25 L114.03,358.00 L114.06,357.75 L114.09,357.50 L114.12,357.25 L114.15,357.00 L114.17,356.75 L114.20,356.50 Z" fill="#000"/>
<path d="M116.47,387.00 L116.47,387.25 L116.43,387.50 L116.37,387.75 L116.32,388.00 L116.28,388.25 L116.25,388.50 L116.22,388.75 L116.21,389.00 L116.20,389.25 L116.20,389.30 L114.20,389.30 L114.20,389.25 L114.19,389.00 L114.18,388.75 L114.15,388.50 L114.12,388.25 L114.08,388.00 L114.03,387.75 L113.97,387.50 L113.93,387.25 L113.93,387.00 Z" fill="#000"/>
<path d="M115.25,359.00 L115.28,359.25 L115.31,359.50 L115.34,359.75 L115.37,360.00 L115.41,360.25 L115.45,360.50 L115.51,360.75 L115.59,361.00 L115.78,361.25 L116.08,361.50 L116.43,361.75 L116.80,362.00 L117.16,362.25 L117.45,362.50 L117.70,362.75 L117.95,363.00 L118.20,363.25 L118.43,363.50 L118.66,363.75 L118.88,364.00 L119.08,364.25 L119.26,364.50 L119.42,364.75 L119.55,365.00 L119.67,365.25 L119.79,365.50 L119.90,365.75 L120.00,366.00 L120.10,366.25 L120.17,366.50 L120.22,366.75 L120.25,367.00 L120.24,367.25 L120.22,367.50 L120.16,367.75 L120.09,368.00 L120.01,368.25 L119.92,368.50 L119.82,368.75 L119.73,369.00 L119.63,369.25 L119.55,369.50 L119.46,369.75 L119.36,370.00 L119.25,370.25 L119.14,370.50 L119.04,370.75 L118.94,371.00 L118.85,371.25 L118.79,371.50 L118.76,371.75 L118.76,372.00 L118.85,372.25 L119.04,372.50 L119.28,372.75 L119.57,373.00 L119.89,373.25 L120.20,373.50 L120.50,373.75 L120.75,374.00 L120.99,374.25 L121.25,374.50 L121.52,374.75 L121.80,375.00 L122.09,375.25 L122.36,375.50 L122.63,375.75 L122.87,376.00 L123.09,376.25 L123.27,376.50 L123.41,376.75 L123.51,377.00 L123.55,377.25 L123.54,377.50 L123.52,377.75 L123.48,378.00 L123.42,378.25 L123.36,378.50 L123.28,378.75 L123.19,379.00 L123.09,379.25 L122.98,379.50 L122.87,379.75 L122.75,380.00 L122.60,380.25 L122.41,380.50 L122.17,380.75 L121.89,381.00 L121.59,381.25 L121.26,381.50 L120.93,381.75 L120.60,382.00 L120.27,382.25 L119.95,382.50 L119.63,382.75 L119.28,383.00 L118.91,383.25 L118.53,383.50 L118.16,383.75 L117.79,384.00 L117.43,384.25 L117.10,384.50 L116.81,384.75 L116.55,385.00 L116.32,385.25 L116.09,385.50 L115.88,385.75 L115.70,386.00 L115.55,386.25 L115.45,386.50 L115.38,386.75 L115.30,387.00 L115.24,387.25 L115.16,387.25 L115.10,387.00 L115.02,386.75 L114.95,386.50 L114.85,386.25 L114.70,386.00 L114.52,385.75 L114.31,385.50 L114.08,385.25 L113.85,385.00 L113.59,384.75 L113.30,384.50 L112.97,384.25 L112.61,384.00 L112.24,383.75 L111.87,383.50 L111.49,383.25 L111.12,383.00 L110.77,382.75 L110.45,382.50 L110.13,382.25 L109.80,382.00 L109.47,381.75 L109.14,381.50 L108.81,381.25 L108.51,381.00 L108.23,380.75 L107.99,380.50 L107.80,380.25 L107.65,380.00 L107.53,379.75 L107.42,379.50 L107.31,379.25 L107.21,379.00 L107.12,378.75 L107.04,378.50 L106.98,378.25 L106.92,378.00 L106.88,377.75 L106.86,377.50 L106.85,377.25 L106.89,377.00 L106.99,376.75 L107.13,376.50 L107.31,376.25 L107.53,376.00 L107.77,375.75 L108.04,375.50 L108.31,375.25 L108.60,375.00 L108.88,374.75 L109.15,374.50 L109.41,374.25 L109.65,374.00 L109.90,373.75 L110.20,373.50 L110.51,373.25 L110.83,373.00 L111.12,372.75 L111.36,372.50 L111.55,372.25 L111.64,372.00 L111.64,371.75 L111.61,371.50 L111.55,371.25 L111.46,371.00 L111.36,370.75 L111.26,370.50 L111.15,370.25 L111.04,370.00 L110.94,369.75 L110.85,369.50 L110.77,369.25 L110.67,369.00 L110.58,368.75 L110.48,368.50 L110.39,368.25 L110.31,368.00 L110.24,367.75 L110.18,367.50 L110.16,367.25 L110.15,367.00 L110.18,366.75 L110.23,366.50 L110.30,366.25 L110.40,366.00 L110.50,365.75 L110.61,365.50 L110.73,365.25 L110.85,365.00 L110.98,364.75 L111.14,364.50 L111.32,364.25 L111.52,364.00 L111.74,363.75 L111.97,363.50 L112.20,363.25 L112.45,363.00 L112.70,362.75 L112.95,362.50 L113.24,362.25 L113.60,362.00 L113.97,361.75 L114.32,361.50 L114.62,361.25 L114.81,361.00 L114.89,360.75 L114.95,360.50 L114.99,360.25 L115.03,360.00 L115.06,359.75 L115.09,359.50 L115.12,359.25 L115.15,359.00 Z" fill="#0000FF" stroke="#000" stroke-width="2.5" stroke-linejoin="round"/>
<line x1="111.59" y1="368.10" x2="118.81" y2="368.10" stroke="#222" stroke-width="0.8" stroke-dasharray="0.8 1.5"/>
<line x1="109.48" y1="375.60" x2="121.22" y2="375.60" stroke="#000" stroke-width="1.7" stroke-dasharray="3.8 3.3"/>
<line x1="109.16" y1="380.40" x2="121.24" y2="380.40" stroke="#222" stroke-width="0.8" stroke-dasharray="0.8 1.5"/>
<path d="M166.50,283.70 L166.52,283.95 L166.53,284.20 L166.55,284.45 L166.56,284.70 L166.58,284.95 L166.59,285.20 L166.61,285.45 L166.62,285.70 L166.64,285.95 L166.65,286.20 L166.66,286.45 L166.68,286.70 L166.69,286.95 L166.71,287.20 L166.72,287.45 L166.73,287.70 L166.75,287.95 L166.76,288.20 L166.77,288.45 L166.77,288.70 L164.23,288.70 L164.23,288.45 L164.24,288.20 L164.25,287.95 L164.27,287.70 L164.28,287.45 L164.29,287.20 L164.31,286.95 L164.32,286.70 L164.34,286.45 L164.35,286.20 L164.36,285.95 L164.38,285.70 L164.39,285.45 L164.41,285.20 L164.42,284.95 L164.44,284.70 L164.45,284.45 L164.47,284.20 L164.48,283.95 L164.50,283.70 Z" fill="#000"/>
<path d="M166.77,397.45 L166.77,397.70 L166.77,397.95 L166.76,398.20 L166.76,398.45 L166.75,398.70 L166.75,398.95 L166.74,399.20 L166.74,399.45 L166.73,399.70 L166.73,399.95 L166.72,400.20 L166.71,400.45 L166.71,400.70 L166.70,400.95 L166.69,401.20 L166.69,401.45 L166.68,401.70 L166.67,401.95 L166.66,402.20 L166.66,402.45 L166.65,402.70 L166.64,402.95 L166.63,403.20 L166.62,403.45 L166.62,403.70 L166.61,403.95 L166.60,404.20 L166.59,404.45 L166.58,404.70 L166.57,404.95 L166.57,405.20 L166.56,405.45 L166.55,405.70 L166.54,405.95 L166.53,406.20 L166.52,406.45 L166.51,406.70 L166.50,406.95 L166.50,407.00 L164.50,407.00 L164.50,406.95 L164.49,406.70 L164.48,406.45 L164.47,406.20 L164.46,405.95 L164.45,405.70 L164.44,405.45 L164.43,405.20 L164.43,404.95 L164.42,404.70 L164.41,404.45 L164.40,404.20 L164.39,403.95 L164.38,403.70 L164.38,403.45 L164.37,403.20 L164.36,402.95 L164.35,402.70 L164.34,402.45 L164.34,402.20 L164.33,401.95 L164.32,401.70 L164.31,401.45 L164.31,401.20 L164.30,400.95 L164.29,400.70 L164.29,400.45 L164.28,400.20 L164.27,399.95 L164.27,399.70 L164.26,399.45 L164.26,399.20 L164.25,398.95 L164.25,398.70 L164.24,398.45 L164.24,398.20 L164.23,397.95 L164.23,397.70 L164.23,397.45 Z" fill="#000"/>
<path d="M165.52,288.45 L165.54,288.70 L165.55,288.95 L165.56,289.20 L165.57,289.45 L165.58,289.70 L165.59,289.95 L165.60,290.20 L165.62,290.45 L165.63,290.70 L165.64,290.95 L165.65,291.20 L165.67,291.45 L165.68,291.70 L165.70,291.95 L165.71,292.20 L165.73,292.45 L165.75,292.70 L165.76,292.95 L165.78,293.20 L165.80,293.45 L165.82,293.70 L165.84,293.95 L165.86,294.20 L165.89,294.45 L165.92,294.70 L165.94,294.95 L165.98,295.20 L166.02,295.45 L166.06,295.70 L166.12,295.95 L166.18,296.20 L166.24,296.45 L166.30,296.70 L166.37,296.95 L166.43,297.20 L166.50,297.45 L166.57,297.70 L166.63,297.95 L166.69,298.20 L166.74,298.45 L166.79,298.70 L166.84,298.95 L166.89,299.20 L166.94,299.45 L166.99,299.70 L167.04,299.95 L167.09,300.20 L167.14,300.45 L167.19,300.70 L167.24,300.95 L167.28,301.20 L167.32,301.45 L167.37,301.70 L167.41,301.95 L167.44,302.20 L167.48,302.45 L167.51,302.70 L167.54,302.95 L167.57,303.20 L167.60,303.45 L167.63,303.70 L167.66,303.95 L167.69,304.20 L167.72,304.45 L167.75,304.70 L167.77,304.95 L167.80,305.20 L167.83,305.45 L167.85,305.70 L167.88,305.95 L167.90,306.20 L167.92,306.45 L167.94,306.70 L167.95,306.95 L167.97,307.20 L167.98,307.45 L167.99,307.70 L168.00,307.95 L168.00,308.20 L168.00,308.45 L168.00,308.70 L167.99,308.95 L167.99,309.20 L167.98,309.45 L167.97,309.70 L167.95,309.95 L167.94,310.20 L167.92,310.45 L167.90,310.70 L167.88,310.95 L167.86,311.20 L167.83,311.45 L167.81,311.70 L167.78,311.95 L167.76,312.20 L167.73,312.45 L167.70,312.70 L167.67,312.95 L167.64,313.20 L167.61,313.45 L167.59,313.70 L167.56,313.95 L167.53,314.20 L167.49,314.45 L167.45,314.70 L167.41,314.95 L167.36,315.20 L167.31,315.45 L167.26,315.70 L167.21,315.95 L167.15,316.20 L167.10,316.45 L167.04,316.70 L166.98,316.95 L166.93,317.20 L166.87,317.45 L166.82,317.70 L166.76,317.95 L166.71,318.20 L166.65,318.45 L166.58,318.70 L166.52,318.95 L166.45,319.20 L166.38,319.45 L166.32,319.70 L166.25,319.95 L166.19,320.20 L166.13,320.45 L166.08,320.70 L166.03,320.95 L165.99,321.20 L165.96,321.45 L165.93,321.70 L165.90,321.95 L165.88,322.20 L165.85,322.45 L165.83,322.70 L165.80,322.95 L165.78,323.20 L165.76,323.45 L165.74,323.70 L165.73,323.95 L165.72,324.20 L165.71,324.45 L165.70,324.70 L165.70,324.95 L165.70,325.20 L165.70,325.45 L165.70,325.70 L165.70,325.95 L165.70,326.20 L165.70,326.45 L165.70,326.70 L165.70,326.95 L165.70,327.20 L165.70,327.45 L165.70,327.70 L165.70,327.95 L165.70,328.20 L165.70,328.45 L165.70,328.70 L165.70,328.95 L165.70,329.20 L165.70,329.45 L165.70,329.70 L165.70,329.95 L165.70,330.20 L165.70,330.45 L165.70,330.70 L165.70,330.95 L165.70,331.20 L165.70,331.45 L165.70,331.70 L165.70,331.95 L165.70,332.20 L165.70,332.45 L165.70,332.70 L165.70,332.95 L165.70,333.20 L165.70,333.45 L165.70,333.70 L165.70,333.95 L165.71,334.20 L165.71,334.45 L165.71,334.70 L165.71,334.95 L165.71,335.20 L165.71,335.45 L165.71,335.70 L165.71,335.95 L165.71,336.20 L165.71,336.45 L165.71,336.70 L165.71,336.95 L165.71,337.20 L165.71,337.45 L165.71,337.70 L165.71,337.95 L165.71,338.20 L165.71,338.45 L165.71,338.70 L165.71,338.95 L165.71,339.20 L165.72,339.45 L165.72,339.70 L165.72,339.95 L165.72,340.20 L165.72,340.45 L165.72,340.70 L165.72,340.95 L165.72,341.20 L165.72,341.45 L165.72,341.70 L165.72,341.95 L165.72,342.20 L165.72,342.45 L165.73,342.70 L165.73,342.95 L165.73,343.20 L165.73,343.45 L165.73,343.70 L165.73,343.95 L165.73,344.20 L165.73,344.45 L165.73,344.70 L165.73,344.95 L165.74,345.20 L165.74,345.45 L165.74,345.70 L165.74,345.95 L165.74,346.20 L165.74,346.45 L165.74,346.70 L165.74,346.95 L165.75,347.20 L165.75,347.45 L165.75,347.70 L165.75,347.95 L165.76,348.20 L165.79,348.45 L165.83,348.70 L165.90,348.95 L165.97,349.20 L166.06,349.45 L166.16,349.70 L166.27,349.95 L166.39,350.20 L166.51,350.45 L166.63,350.70 L166.76,350.95 L166.88,351.20 L167.00,351.45 L167.12,351.70 L167.23,351.95 L167.33,352.20 L167.44,352.45 L167.55,352.70 L167.66,352.95 L167.77,353.20 L167.88,353.45 L168.00,353.70 L168.12,353.95 L168.23,354.20 L168.35,354.45 L168.47,354.70 L168.59,354.95 L168.71,355.20 L168.83,355.45 L168.95,355.70 L169.08,355.95 L169.20,356.20 L169.32,356.45 L169.44,356.70 L169.56,356.95 L169.68,357.20 L169.79,357.45 L169.91,357.70 L170.03,357.95 L170.14,358.20 L170.26,358.45 L170.38,358.70 L170.50,358.95 L170.62,359.20 L170.75,359.45 L170.87,359.70 L171.00,359.95 L171.12,360.20 L171.25,360.45 L171.37,360.70 L171.49,360.95 L171.61,361.20 L171.73,361.45 L171.85,361.70 L171.96,361.95 L172.07,362.20 L172.18,362.45 L172.28,362.70 L172.38,362.95 L172.48,363.20 L172.57,363.45 L172.65,363.70 L172.73,363.95 L172.81,364.20 L172.89,364.45 L172.97,364.70 L173.05,364.95 L173.12,365.20 L173.20,365.45 L173.28,365.70 L173.36,365.95 L173.44,366.20 L173.51,366.45 L173.58,366.70 L173.66,366.95 L173.72,367.20 L173.79,367.45 L173.85,367.70 L173.91,367.95 L173.97,368.20 L174.02,368.45 L174.07,368.70 L174.11,368.95 L174.15,369.20 L174.18,369.45 L174.21,369.70 L174.23,369.95 L174.24,370.20 L174.25,370.45 L174.25,370.70 L174.24,370.95 L174.23,371.20 L174.21,371.45 L174.19,371.70 L174.16,371.95 L174.13,372.20 L174.09,372.45 L174.04,372.70 L174.00,372.95 L173.95,373.20 L173.89,373.45 L173.84,373.70 L173.78,373.95 L173.72,374.20 L173.66,374.45 L173.59,374.70 L173.53,374.95 L173.46,375.20 L173.40,375.45 L173.33,375.70 L173.26,375.95 L173.20,376.20 L173.12,376.45 L173.04,376.70 L172.95,376.95 L172.86,377.20 L172.76,377.45 L172.66,377.70 L172.55,377.95 L172.44,378.20 L172.32,378.45 L172.20,378.70 L172.08,378.95 L171.96,379.20 L171.84,379.45 L171.71,379.70 L171.58,379.95 L171.46,380.20 L171.33,380.45 L171.20,380.70 L171.08,380.95 L170.95,381.20 L170.82,381.45 L170.68,381.70 L170.54,381.95 L170.40,382.20 L170.25,382.45 L170.11,382.70 L169.96,382.95 L169.81,383.20 L169.66,383.45 L169.51,383.70 L169.36,383.95 L169.21,384.20 L169.06,384.45 L168.92,384.70 L168.78,384.95 L168.64,385.20 L168.49,385.45 L168.35,385.70 L168.20,385.95 L168.05,386.20 L167.90,386.45 L167.75,386.70 L167.61,386.95 L167.47,387.20 L167.33,387.45 L167.21,387.70 L167.09,387.95 L166.97,388.20 L166.87,388.45 L166.77,388.70 L166.68,388.95 L166.59,389.20 L166.50,389.45 L166.41,389.70 L166.33,389.95 L166.25,390.20 L166.18,390.45 L166.11,390.70 L166.05,390.95 L166.00,391.20 L165.96,391.45 L165.92,391.70 L165.88,391.95 L165.85,392.20 L165.82,392.45 L165.79,392.70 L165.76,392.95 L165.73,393.20 L165.71,393.45 L165.68,393.70 L165.66,393.95 L165.65,394.20 L165.63,394.45 L165.61,394.70 L165.60,394.95 L165.59,395.20 L165.58,395.45 L165.57,395.70 L165.57,395.95 L165.56,396.20 L165.55,396.45 L165.54,396.70 L165.54,396.95 L165.53,397.20 L165.53,397.45 L165.52,397.70 L165.48,397.70 L165.47,397.45 L165.47,397.20 L165.46,396.95 L165.46,396.70 L165.45,396.45 L165.44,396.20 L165.43,395.95 L165.43,395.70 L165.42,395.45 L165.41,395.20 L165.40,394.95 L165.39,394.70 L165.37,394.45 L165.35,394.20 L165.34,393.95 L165.32,393.70 L165.29,393.45 L165.27,393.20 L165.24,392.95 L165.21,392.70 L165.18,392.45 L165.15,392.20 L165.12,391.95 L165.08,391.70 L165.04,391.45 L165.00,391.20 L164.95,390.95 L164.89,390.70 L164.82,390.45 L164.75,390.20 L164.67,389.95 L164.59,389.70 L164.50,389.45 L164.41,389.20 L164.32,388.95 L164.23,388.70 L164.13,388.45 L164.03,388.20 L163.91,387.95 L163.79,387.70 L163.67,387.45 L163.53,387.20 L163.39,386.95 L163.25,386.70 L163.10,386.45 L162.95,386.20 L162.80,385.95 L162.65,385.70 L162.51,385.45 L162.36,385.20 L162.22,384.95 L162.08,384.70 L161.94,384.45 L161.79,384.20 L161.64,383.95 L161.49,383.70 L161.34,383.45 L161.19,383.20 L161.04,382.95 L160.89,382.70 L160.75,382.45 L160.60,382.20 L160.46,381.95 L160.32,381.70 L160.18,381.45 L160.05,381.20 L159.92,380.95 L159.80,380.70 L159.67,380.45 L159.54,380.20 L159.42,379.95 L159.29,379.70 L159.16,379.45 L159.04,379.20 L158.92,378.95 L158.80,378.70 L158.68,378.45 L158.56,378.20 L158.45,377.95 L158.34,377.70 L158.24,377.45 L158.14,377.20 L158.05,376.95 L157.96,376.70 L157.88,376.45 L157.80,376.20 L157.74,375.95 L157.67,375.70 L157.60,375.45 L157.54,375.20 L157.47,374.95 L157.41,374.70 L157.34,374.45 L157.28,374.20 L157.22,373.95 L157.16,373.70 L157.11,373.45 L157.05,373.20 L157.00,372.95 L156.96,372.70 L156.91,372.45 L156.87,372.20 L156.84,371.95 L156.81,371.70 L156.79,371.45 L156.77,371.20 L156.76,370.95 L156.75,370.70 L156.75,370.45 L156.76,370.20 L156.77,369.95 L156.79,369.70 L156.82,369.45 L156.85,369.20 L156.89,368.95 L156.93,368.70 L156.98,368.45 L157.03,368.20 L157.09,367.95 L157.15,367.70 L157.21,367.45 L157.28,367.20 L157.34,366.95 L157.42,366.70 L157.49,366.45 L157.56,366.20 L157.64,365.95 L157.72,365.70 L157.80,365.45 L157.88,365.20 L157.95,364.95 L158.03,364.70 L158.11,364.45 L158.19,364.20 L158.27,363.95 L158.35,363.70 L158.43,363.45 L158.52,363.20 L158.62,362.95 L158.72,362.70 L158.82,362.45 L158.93,362.20 L159.04,361.95 L159.15,361.70 L159.27,361.45 L159.39,361.20 L159.51,360.95 L159.63,360.70 L159.75,360.45 L159.88,360.20 L160.00,359.95 L160.13,359.70 L160.25,359.45 L160.38,359.20 L160.50,358.95 L160.62,358.70 L160.74,358.45 L160.86,358.20 L160.97,357.95 L161.09,357.70 L161.21,357.45 L161.32,357.20 L161.44,356.95 L161.56,356.70 L161.68,356.45 L161.80,356.20 L161.92,355.95 L162.05,355.70 L162.17,355.45 L162.29,355.20 L162.41,354.95 L162.53,354.70 L162.65,354.45 L162.77,354.20 L162.88,353.95 L163.00,353.70 L163.12,353.45 L163.23,353.20 L163.34,352.95 L163.45,352.70 L163.56,352.45 L163.67,352.20 L163.77,351.95 L163.88,351.70 L164.00,351.45 L164.12,351.20 L164.24,350.95 L164.37,350.70 L164.49,350.45 L164.61,350.20 L164.73,349.95 L164.84,349.70 L164.94,349.45 L165.03,349.20 L165.10,348.95 L165.17,348.70 L165.21,348.45 L165.24,348.20 L165.25,347.95 L165.25,347.70 L165.25,347.45 L165.25,347.20 L165.26,346.95 L165.26,346.70 L165.26,346.45 L165.26,346.20 L165.26,345.95 L165.26,345.70 L165.26,345.45 L165.26,345.20 L165.27,344.95 L165.27,344.70 L165.27,344.45 L165.27,344.20 L165.27,343.95 L165.27,343.70 L165.27,343.45 L165.27,343.20 L165.27,342.95 L165.27,342.70 L165.28,342.45 L165.28,342.20 L165.28,341.95 L165.28,341.70 L165.28,341.45 L165.28,341.20 L165.28,340.95 L165.28,340.70 L165.28,340.45 L165.28,340.20 L165.28,339.95 L165.28,339.70 L165.28,339.45 L165.29,339.20 L165.29,338.95 L165.29,338.70 L165.29,338.45 L165.29,338.20 L165.29,337.95 L165.29,337.70 L165.29,337.45 L165.29,337.20 L165.29,336.95 L165.29,336.70 L165.29,336.45 L165.29,336.20 L165.29,335.95 L165.29,335.70 L165.29,335.45 L165.29,335.20 L165.29,334.95 L165.29,334.70 L165.29,334.45 L165.29,334.20 L165.30,333.95 L165.30,333.70 L165.30,333.45 L165.30,333.20 L165.30,332.95 L165.30,332.70 L165.30,332.45 L165.30,332.20 L165.30,331.95 L165.30,331.70 L165.30,331.45 L165.30,331.20 L165.30,330.95 L165.30,330.70 L165.30,330.45 L165.30,330.20 L165.30,329.95 L165.30,329.70 L165.30,329.45 L165.30,329.20 L165.30,328.95 L165.30,328.70 L165.30,328.45 L165.30,328.20 L165.30,327.95 L165.30,327.70 L165.30,327.45 L165.30,327.20 L165.30,326.95 L165.30,326.70 L165.30,326.45 L165.30,326.20 L165.30,325.95 L165.30,325.70 L165.30,325.45 L165.30,325.20 L165.30,324.95 L165.30,324.70 L165.29,324.45 L165.28,324.20 L165.27,323.95 L165.26,323.70 L165.24,323.45 L165.22,323.20 L165.20,322.95 L165.17,322.70 L165.15,322.45 L165.12,322.20 L165.10,321.95 L165.07,321.70 L165.04,321.45 L165.01,321.20 L164.97,320.95 L164.92,320.70 L164.87,320.45 L164.81,320.20 L164.75,319.95 L164.68,319.70 L164.62,319.45 L164.55,319.20 L164.48,318.95 L164.42,318.70 L164.35,318.45 L164.29,318.20 L164.24,317.95 L164.18,317.70 L164.13,317.45 L164.07,317.20 L164.02,316.95 L163.96,316.70 L163.90,316.45 L163.85,316.20 L163.79,315.95 L163.74,315.70 L163.69,315.45 L163.64,315.20 L163.59,314.95 L163.55,314.70 L163.51,314.45 L163.47,314.20 L163.44,313.95 L163.41,313.70 L163.39,313.45 L163.36,313.20 L163.33,312.95 L163.30,312.70 L163.27,312.45 L163.24,312.20 L163.22,311.95 L163.19,311.70 L163.17,311.45 L163.14,311.20 L163.12,310.95 L163.10,310.70 L163.08,310.45 L163.06,310.20 L163.05,309.95 L163.03,309.70 L163.02,309.45 L163.01,309.20 L163.01,308.95 L163.00,308.70 L163.00,308.45 L163.00,308.20 L163.00,307.95 L163.01,307.70 L163.02,307.45 L163.03,307.20 L163.05,306.95 L163.06,306.70 L163.08,306.45 L163.10,306.20 L163.12,305.95 L163.15,305.70 L163.17,305.45 L163.20,305.20 L163.23,304.95 L163.25,304.70 L163.28,304.45 L163.31,304.20 L163.34,303.95 L163.37,303.70 L163.40,303.45 L163.43,303.20 L163.46,302.95 L163.49,302.70 L163.52,302.45 L163.56,302.20 L163.59,301.95 L163.63,301.70 L163.68,301.45 L163.72,301.20 L163.76,300.95 L163.81,300.70 L163.86,300.45 L163.91,300.20 L163.96,299.95 L164.01,299.70 L164.06,299.45 L164.11,299.20 L164.16,298.95 L164.21,298.70 L164.26,298.45 L164.31,298.20 L164.37,297.95 L164.43,297.70 L164.50,297.45 L164.57,297.20 L164.63,296.95 L164.70,296.70 L164.76,296.45 L164.82,296.20 L164.88,295.95 L164.94,295.70 L164.98,295.45 L165.02,295.20 L165.06,294.95 L165.08,294.70 L165.11,294.45 L165.14,294.20 L165.16,293.95 L165.18,293.70 L165.20,293.45 L165.22,293.20 L165.24,292.95 L165.25,292.70 L165.27,292.45 L165.29,292.20 L165.30,291.95 L165.32,291.70 L165.33,291.45 L165.35,291.20 L165.36,290.95 L165.37,290.70 L165.38,290.45 L165.40,290.20 L165.41,289.95 L165.42,289.70 L165.43,289.45 L165.44,289.20 L165.45,288.95 L165.46,288.70 L165.48,288.45 Z" fill="#AB07E0" stroke="#000" stroke-width="2.5" stroke-linejoin="round"/>
<line x1="158.33" y1="369.80" x2="172.97" y2="369.80" stroke="#000" stroke-width="1.7" stroke-dasharray="3.8 3.3"/>
<line x1="159.03" y1="376.10" x2="171.97" y2="376.10" stroke="#222" stroke-width="0.8" stroke-dasharray="0.8 1.5"/>
<path d="M196.60,328.10 L196.61,328.35 L196.63,328.60 L196.64,328.85 L196.66,329.10 L196.67,329.35 L196.69,329.60 L196.71,329.85 L196.73,330.10 L196.75,330.35 L196.77,330.60 L196.79,330.85 L196.81,331.10 L196.84,331.35 L196.86,331.60 L196.87,331.85 L196.87,332.10 L194.33,332.10 L194.33,331.85 L194.34,331.60 L194.36,331.35 L194.39,331.10 L194.41,330.85 L194.43,330.60 L194.45,330.35 L194.47,330.10 L194.49,329.85 L194.51,329.60 L194.53,329.35 L194.54,329.10 L194.56,328.85 L194.57,328.60 L194.59,328.35 L194.60,328.10 Z" fill="#000"/>
<path d="M196.87,393.10 L196.87,393.35 L196.87,393.60 L196.85,393.85 L196.84,394.10 L196.83,394.35 L196.81,394.60 L196.80,394.85 L196.78,395.10 L196.77,395.35 L196.75,395.60 L196.73,395.85 L196.72,396.10 L196.70,396.35 L196.68,396.60 L196.67,396.85 L196.65,397.10 L196.63,397.35 L196.61,397.60 L196.60,397.80 L194.60,397.80 L194.59,397.60 L194.57,397.35 L194.55,397.10 L194.53,396.85 L194.52,396.60 L194.50,396.35 L194.48,396.10 L194.47,395.85 L194.45,395.60 L194.43,395.35 L194.42,395.10 L194.40,394.85 L194.39,394.60 L194.37,394.35 L194.36,394.10 L194.35,393.85 L194.33,393.60 L194.33,393.35 L194.33,393.10 Z" fill="#000"/>
<path d="M195.64,331.85 L195.66,332.10 L195.69,332.35 L195.71,332.60 L195.74,332.85 L195.77,333.10 L195.80,333.35 L195.83,333.60 L195.86,333.85 L195.90,334.10 L195.94,334.35 L195.98,334.60 L196.02,334.85 L196.07,335.10 L196.13,335.35 L196.20,335.60 L196.28,335.85 L196.37,336.10 L196.46,336.35 L196.55,336.60 L196.65,336.85 L196.74,337.10 L196.84,337.35 L196.92,337.60 L197.01,337.85 L197.08,338.10 L197.15,338.35 L197.22,338.60 L197.30,338.85 L197.37,339.10 L197.44,339.35 L197.51,339.60 L197.58,339.85 L197.65,340.10 L197.72,340.35 L197.78,340.60 L197.84,340.85 L197.89,341.10 L197.94,341.35 L197.99,341.60 L198.03,341.85 L198.06,342.10 L198.10,342.35 L198.13,342.60 L198.17,342.85 L198.20,343.10 L198.23,343.35 L198.26,343.60 L198.29,343.85 L198.32,344.10 L198.35,344.35 L198.37,344.60 L198.39,344.85 L198.41,345.10 L198.43,345.35 L198.44,345.60 L198.45,345.85 L198.45,346.10 L198.45,346.35 L198.44,346.60 L198.43,346.85 L198.41,347.10 L198.39,347.35 L198.37,347.60 L198.34,347.85 L198.30,348.10 L198.26,348.35 L198.22,348.60 L198.18,348.85 L198.14,349.10 L198.09,349.35 L198.04,349.60 L197.99,349.85 L197.93,350.10 L197.88,350.35 L197.83,350.60 L197.76,350.85 L197.67,351.10 L197.58,351.35 L197.47,351.60 L197.36,351.85 L197.24,352.10 L197.12,352.35 L197.01,352.60 L196.90,352.85 L196.79,353.10 L196.70,353.35 L196.62,353.60 L196.53,353.85 L196.45,354.10 L196.36,354.35 L196.28,354.60 L196.20,354.85 L196.14,355.10 L196.09,355.35 L196.06,355.60 L196.05,355.85 L196.07,356.10 L196.10,356.35 L196.16,356.60 L196.23,356.85 L196.32,357.10 L196.41,357.35 L196.52,357.60 L196.63,357.85 L196.75,358.10 L196.86,358.35 L196.98,358.60 L197.09,358.85 L197.19,359.10 L197.30,359.35 L197.42,359.60 L197.54,359.85 L197.66,360.10 L197.79,360.35 L197.93,360.60 L198.06,360.85 L198.21,361.10 L198.35,361.35 L198.49,361.60 L198.64,361.85 L198.78,362.10 L198.93,362.35 L199.07,362.60 L199.22,362.85 L199.36,363.10 L199.50,363.35 L199.64,363.60 L199.77,363.85 L199.90,364.10 L200.03,364.35 L200.17,364.60 L200.30,364.85 L200.43,365.10 L200.57,365.35 L200.70,365.60 L200.83,365.85 L200.96,366.10 L201.10,366.35 L201.23,366.60 L201.35,366.85 L201.48,367.10 L201.61,367.35 L201.73,367.60 L201.85,367.85 L201.96,368.10 L202.08,368.35 L202.18,368.60 L202.29,368.85 L202.39,369.10 L202.49,369.35 L202.60,369.60 L202.71,369.85 L202.82,370.10 L202.94,370.35 L203.05,370.60 L203.16,370.85 L203.27,371.10 L203.37,371.35 L203.48,371.60 L203.57,371.85 L203.66,372.10 L203.74,372.35 L203.82,372.60 L203.89,372.85 L203.94,373.10 L203.99,373.35 L204.02,373.60 L204.04,373.85 L204.05,374.10 L204.04,374.35 L204.03,374.60 L204.00,374.85 L203.96,375.10 L203.91,375.35 L203.85,375.60 L203.79,375.85 L203.72,376.10 L203.64,376.35 L203.56,376.60 L203.47,376.85 L203.38,377.10 L203.29,377.35 L203.20,377.60 L203.11,377.85 L203.01,378.10 L202.90,378.35 L202.78,378.60 L202.64,378.85 L202.49,379.10 L202.32,379.35 L202.15,379.60 L201.96,379.85 L201.77,380.10 L201.57,380.35 L201.37,380.60 L201.16,380.85 L200.94,381.10 L200.73,381.35 L200.51,381.60 L200.30,381.85 L200.08,382.10 L199.87,382.35 L199.67,382.60 L199.47,382.85 L199.27,383.10 L199.07,383.35 L198.85,383.60 L198.63,383.85 L198.41,384.10 L198.18,384.35 L197.95,384.60 L197.73,384.85 L197.51,385.10 L197.31,385.35 L197.11,385.60 L196.93,385.85 L196.77,386.10 L196.62,386.35 L196.50,386.60 L196.39,386.85 L196.27,387.10 L196.16,387.35 L196.07,387.60 L195.98,387.85 L195.92,388.10 L195.87,388.35 L195.84,388.60 L195.82,388.85 L195.80,389.10 L195.79,389.35 L195.78,389.60 L195.76,389.85 L195.75,390.10 L195.74,390.35 L195.73,390.60 L195.73,390.85 L195.72,391.10 L195.71,391.35 L195.70,391.60 L195.70,391.85 L195.69,392.10 L195.68,392.35 L195.67,392.60 L195.66,392.85 L195.64,393.10 L195.63,393.35 L195.57,393.35 L195.56,393.10 L195.54,392.85 L195.53,392.60 L195.52,392.35 L195.51,392.10 L195.50,391.85 L195.50,391.60 L195.49,391.35 L195.48,391.10 L195.47,390.85 L195.47,390.60 L195.46,390.35 L195.45,390.10 L195.44,389.85 L195.42,389.60 L195.41,389.35 L195.40,389.10 L195.38,388.85 L195.36,388.60 L195.33,388.35 L195.28,388.10 L195.22,387.85 L195.13,387.60 L195.04,387.35 L194.93,387.10 L194.81,386.85 L194.70,386.60 L194.58,386.35 L194.43,386.10 L194.27,385.85 L194.09,385.60 L193.89,385.35 L193.69,385.10 L193.47,384.85 L193.25,384.60 L193.02,384.35 L192.79,384.10 L192.57,383.85 L192.35,383.60 L192.13,383.35 L191.93,383.10 L191.73,382.85 L191.53,382.60 L191.33,382.35 L191.12,382.10 L190.90,381.85 L190.69,381.60 L190.47,381.35 L190.26,381.10 L190.04,380.85 L189.83,380.60 L189.63,380.35 L189.43,380.10 L189.24,379.85 L189.05,379.60 L188.88,379.35 L188.71,379.10 L188.56,378.85 L188.42,378.60 L188.30,378.35 L188.19,378.10 L188.09,377.85 L188.00,377.60 L187.91,377.35 L187.82,377.10 L187.73,376.85 L187.64,376.60 L187.56,376.35 L187.48,376.10 L187.41,375.85 L187.35,375.60 L187.29,375.35 L187.24,375.10 L187.20,374.85 L187.17,374.60 L187.16,374.35 L187.15,374.10 L187.16,373.85 L187.18,373.60 L187.21,373.35 L187.26,373.10 L187.31,372.85 L187.38,372.60 L187.46,372.35 L187.54,372.10 L187.63,371.85 L187.72,371.60 L187.83,371.35 L187.93,371.10 L188.04,370.85 L188.15,370.60 L188.26,370.35 L188.38,370.10 L188.49,369.85 L188.60,369.60 L188.71,369.35 L188.81,369.10 L188.91,368.85 L189.02,368.60 L189.12,368.35 L189.24,368.10 L189.35,367.85 L189.47,367.60 L189.59,367.35 L189.72,367.10 L189.85,366.85 L189.97,366.60 L190.10,366.35 L190.24,366.10 L190.37,365.85 L190.50,365.60 L190.63,365.35 L190.77,365.10 L190.90,364.85 L191.03,364.60 L191.17,364.35 L191.30,364.10 L191.43,363.85 L191.56,363.60 L191.70,363.35 L191.84,363.10 L191.98,362.85 L192.13,362.60 L192.27,362.35 L192.42,362.10 L192.56,361.85 L192.71,361.60 L192.85,361.35 L192.99,361.10 L193.14,360.85 L193.27,360.60 L193.41,360.35 L193.54,360.10 L193.66,359.85 L193.78,359.60 L193.90,359.35 L194.01,359.10 L194.11,358.85 L194.22,358.60 L194.34,358.35 L194.45,358.10 L194.57,357.85 L194.68,357.60 L194.79,357.35 L194.88,357.10 L194.97,356.85 L195.04,356.60 L195.10,356.35 L195.13,356.10 L195.15,355.85 L195.14,355.60 L195.11,355.35 L195.06,355.10 L195.00,354.85 L194.92,354.60 L194.84,354.35 L194.75,354.10 L194.67,353.85 L194.58,353.60 L194.50,353.35 L194.41,353.10 L194.30,352.85 L194.19,352.60 L194.08,352.35 L193.96,352.10 L193.84,351.85 L193.73,351.60 L193.62,351.35 L193.53,351.10 L193.44,350.85 L193.37,350.60 L193.32,350.35 L193.27,350.10 L193.21,349.85 L193.16,349.60 L193.11,349.35 L193.06,349.10 L193.02,348.85 L192.98,348.60 L192.94,348.35 L192.90,348.10 L192.86,347.85 L192.83,347.60 L192.81,347.35 L192.79,347.10 L192.77,346.85 L192.76,346.60 L192.75,346.35 L192.75,346.10 L192.75,345.85 L192.76,345.60 L192.77,345.35 L192.79,345.10 L192.81,344.85 L192.83,344.60 L192.85,344.35 L192.88,344.10 L192.91,343.85 L192.94,343.60 L192.97,343.35 L193.00,343.10 L193.03,342.85 L193.07,342.60 L193.10,342.35 L193.14,342.10 L193.17,341.85 L193.21,341.60 L193.26,341.35 L193.31,341.10 L193.36,340.85 L193.42,340.60 L193.48,340.35 L193.55,340.10 L193.62,339.85 L193.69,339.60 L193.76,339.35 L193.83,339.10 L193.90,338.85 L193.98,338.60 L194.05,338.35 L194.12,338.10 L194.19,337.85 L194.28,337.60 L194.36,337.35 L194.46,337.10 L194.55,336.85 L194.65,336.60 L194.74,336.35 L194.83,336.10 L194.92,335.85 L195.00,335.60 L195.07,335.35 L195.13,335.10 L195.18,334.85 L195.22,334.60 L195.26,334.35 L195.30,334.10 L195.34,333.85 L195.37,333.60 L195.40,333.35 L195.43,333.10 L195.46,332.85 L195.49,332.60 L195.51,332.35 L195.54,332.10 L195.56,331.85 Z" fill="#0000FF" stroke="#000" stroke-width="2.5" stroke-linejoin="round"/>
<line x1="188.71" y1="374.40" x2="202.79" y2="374.40" stroke="#000" stroke-width="1.7" stroke-dasharray="3.8 3.3"/>
<line x1="189.10" y1="377.20" x2="202.10" y2="377.20" stroke="#222" stroke-width="0.8" stroke-dasharray="0.8 1.5"/>
<text x="87.38" y="247.40" font-size="12" font-weight="bold" textLength="105.74" lengthAdjust="spacingAndGlyphs" fill="#000"  xml:space="preserve">s.c. immunization</text>
<rect x="235.35" y="269.95" width="13.80" height="6.30" fill="#AB07E0" stroke="#000" stroke-width="1.9"/>
<rect x="235.35" y="290.15" width="13.80" height="5.90" fill="#0000FF" stroke="#000" stroke-width="1.9"/>
<text x="258.96" y="276.30" font-size="12" textLength="29.08" lengthAdjust="spacingAndGlyphs" fill="#111"  xml:space="preserve">OMV</text>
<text x="287.13" y="278.60" font-size="9.2" textLength="15.75" lengthAdjust="spacingAndGlyphs" fill="#111"  xml:space="preserve">Bru</text>
<text x="258.96" y="296.20" font-size="12" textLength="29.08" lengthAdjust="spacingAndGlyphs" fill="#111"  xml:space="preserve">OMV</text>
<text x="287.19" y="298.60" font-size="9.2" textLength="30.79" lengthAdjust="spacingAndGlyphs" fill="#111"  xml:space="preserve">Bru-M3</text>
<g transform="rotate(-90)">
<text x="-394.64" y="40.80" font-size="12" font-weight="bold" textLength="97.25" lengthAdjust="spacingAndGlyphs" fill="#000"  xml:space="preserve">IgG2a/IgG1 ratio</text>
</g>
<line x1="427.60" y1="274.45" x2="427.60" y2="421.35" stroke="#000" stroke-width="1.5" />
<line x1="426.85" y1="420.60" x2="574.30" y2="420.60" stroke="#000" stroke-width="1.5" />
<line x1="421.60" y1="420.60" x2="427.60" y2="420.60" stroke="#000" stroke-width="1.3" />
<text x="410.80" y="424.18" font-size="10" font-weight="bold" fill="#000"  xml:space="preserve">-1</text>
<line x1="421.60" y1="384.25" x2="427.60" y2="384.25" stroke="#000" stroke-width="1.3" />
<text x="414.20" y="387.83" font-size="10" font-weight="bold" fill="#000"  xml:space="preserve">0</text>
<line x1="421.60" y1="347.90" x2="427.60" y2="347.90" stroke="#000" stroke-width="1.3" />
<text x="414.10" y="351.48" font-size="10" font-weight="bold" fill="#000"  xml:space="preserve">1</text>
<line x1="421.60" y1="311.55" x2="427.60" y2="311.55" stroke="#000" stroke-width="1.3" />
<text x="414.20" y="315.13" font-size="10" font-weight="bold" fill="#000"  xml:space="preserve">2</text>
<line x1="421.60" y1="275.20" x2="427.60" y2="275.20" stroke="#000" stroke-width="1.3" />
<text x="414.20" y="278.78" font-size="10" font-weight="bold" fill="#000"  xml:space="preserve">3</text>
<line x1="461.50" y1="420.60" x2="461.50" y2="426.80" stroke="#000" stroke-width="1.3" />
<line x1="539.60" y1="420.60" x2="539.60" y2="426.80" stroke="#000" stroke-width="1.3" />
<text x="440.50" y="438.20" font-size="11" font-weight="bold" textLength="42.50" lengthAdjust="spacingAndGlyphs" fill="#000"  xml:space="preserve">2 weeks</text>
<text x="517.89" y="438.20" font-size="11" font-weight="bold" textLength="43.11" lengthAdjust="spacingAndGlyphs" fill="#000"  xml:space="preserve">5 weeks</text>
<line x1="431.30" y1="384.25" x2="574.30" y2="384.25" stroke="#000" stroke-width="1.4" stroke-dasharray="1.4 2.98"/>
<path d="M448.10,280.40 L448.11,280.65 L448.12,280.90 L448.13,281.15 L448.15,281.40 L448.16,281.65 L448.17,281.90 L448.18,282.15 L448.19,282.40 L448.20,282.65 L448.21,282.90 L448.23,283.15 L448.24,283.40 L448.25,283.65 L448.26,283.90 L448.27,284.15 L448.28,284.40 L448.29,284.65 L448.31,284.90 L448.32,285.15 L448.33,285.40 L448.34,285.65 L448.35,285.90 L448.36,286.15 L448.37,286.40 L448.37,286.65 L445.83,286.65 L445.83,286.40 L445.84,286.15 L445.85,285.90 L445.86,285.65 L445.87,285.40 L445.88,285.15 L445.89,284.90 L445.91,284.65 L445.92,284.40 L445.93,284.15 L445.94,283.90 L445.95,283.65 L445.96,283.40 L445.97,283.15 L445.99,282.90 L446.00,282.65 L446.01,282.40 L446.02,282.15 L446.03,281.90 L446.04,281.65 L446.05,281.40 L446.07,281.15 L446.08,280.90 L446.09,280.65 L446.10,280.40 Z" fill="#000"/>
<path d="M448.37,389.65 L448.37,389.90 L448.37,390.15 L448.36,390.40 L448.36,390.65 L448.35,390.90 L448.35,391.15 L448.34,391.40 L448.33,391.65 L448.32,391.90 L448.32,392.15 L448.31,392.40 L448.30,392.65 L448.29,392.90 L448.28,393.15 L448.27,393.40 L448.26,393.65 L448.25,393.90 L448.24,394.15 L448.23,394.40 L448.22,394.65 L448.21,394.90 L448.20,395.15 L448.19,395.40 L448.18,395.65 L448.16,395.90 L448.15,396.15 L448.14,396.40 L448.13,396.65 L448.12,396.90 L448.10,397.15 L448.10,397.20 L446.10,397.20 L446.10,397.15 L446.08,396.90 L446.07,396.65 L446.06,396.40 L446.05,396.15 L446.04,395.90 L446.02,395.65 L446.01,395.40 L446.00,395.15 L445.99,394.90 L445.98,394.65 L445.97,394.40 L445.96,394.15 L445.95,393.90 L445.94,393.65 L445.93,393.40 L445.92,393.15 L445.91,392.90 L445.90,392.65 L445.89,392.40 L445.88,392.15 L445.88,391.90 L445.87,391.65 L445.86,391.40 L445.85,391.15 L445.85,390.90 L445.84,390.65 L445.84,390.40 L445.83,390.15 L445.83,389.90 L445.83,389.65 Z" fill="#000"/>
<path d="M447.12,286.40 L447.13,286.65 L447.15,286.90 L447.16,287.15 L447.17,287.40 L447.18,287.65 L447.19,287.90 L447.19,288.15 L447.20,288.40 L447.21,288.65 L447.22,288.90 L447.23,289.15 L447.23,289.40 L447.24,289.65 L447.25,289.90 L447.26,290.15 L447.27,290.40 L447.27,290.65 L447.28,290.90 L447.29,291.15 L447.30,291.40 L447.31,291.65 L447.33,291.90 L447.34,292.15 L447.35,292.40 L447.37,292.65 L447.38,292.90 L447.40,293.15 L447.42,293.40 L447.44,293.65 L447.46,293.90 L447.49,294.15 L447.54,294.40 L447.60,294.65 L447.67,294.90 L447.75,295.15 L447.84,295.40 L447.93,295.65 L448.03,295.90 L448.13,296.15 L448.22,296.40 L448.32,296.65 L448.41,296.90 L448.50,297.15 L448.60,297.40 L448.70,297.65 L448.81,297.90 L448.91,298.15 L449.02,298.40 L449.14,298.65 L449.25,298.90 L449.36,299.15 L449.48,299.40 L449.59,299.65 L449.70,299.90 L449.81,300.15 L449.91,300.40 L450.02,300.65 L450.11,300.90 L450.21,301.15 L450.30,301.40 L450.39,301.65 L450.48,301.90 L450.57,302.15 L450.66,302.40 L450.75,302.65 L450.84,302.90 L450.92,303.15 L451.00,303.40 L451.08,303.65 L451.16,303.90 L451.23,304.15 L451.30,304.40 L451.37,304.65 L451.43,304.90 L451.48,305.15 L451.54,305.40 L451.59,305.65 L451.64,305.90 L451.69,306.15 L451.74,306.40 L451.79,306.65 L451.83,306.90 L451.88,307.15 L451.92,307.40 L451.96,307.65 L452.00,307.90 L452.04,308.15 L452.07,308.40 L452.11,308.65 L452.14,308.90 L452.17,309.15 L452.20,309.40 L452.24,309.65 L452.27,309.90 L452.30,310.15 L452.32,310.40 L452.34,310.65 L452.35,310.90 L452.35,311.15 L452.34,311.40 L452.32,311.65 L452.30,311.90 L452.27,312.15 L452.23,312.40 L452.20,312.65 L452.16,312.90 L452.13,313.15 L452.09,313.40 L452.04,313.65 L451.99,313.90 L451.94,314.15 L451.88,314.40 L451.82,314.65 L451.76,314.90 L451.69,315.15 L451.62,315.40 L451.55,315.65 L451.48,315.90 L451.41,316.15 L451.33,316.40 L451.26,316.65 L451.18,316.90 L451.10,317.15 L451.02,317.40 L450.94,317.65 L450.84,317.90 L450.75,318.15 L450.65,318.40 L450.55,318.65 L450.45,318.90 L450.35,319.15 L450.25,319.40 L450.14,319.65 L450.05,319.90 L449.95,320.15 L449.86,320.40 L449.77,320.65 L449.68,320.90 L449.60,321.15 L449.52,321.40 L449.44,321.65 L449.36,321.90 L449.29,322.15 L449.21,322.40 L449.13,322.65 L449.06,322.90 L448.99,323.15 L448.92,323.40 L448.85,323.65 L448.79,323.90 L448.73,324.15 L448.67,324.40 L448.62,324.65 L448.57,324.90 L448.52,325.15 L448.48,325.40 L448.43,325.65 L448.38,325.90 L448.34,326.15 L448.29,326.40 L448.25,326.65 L448.20,326.90 L448.16,327.15 L448.13,327.40 L448.09,327.65 L448.06,327.90 L448.03,328.15 L448.00,328.40 L447.98,328.65 L447.97,328.90 L447.96,329.15 L447.95,329.40 L447.95,329.65 L447.98,329.90 L448.02,330.15 L448.07,330.40 L448.14,330.65 L448.23,330.90 L448.32,331.15 L448.41,331.40 L448.52,331.65 L448.62,331.90 L448.73,332.15 L448.83,332.40 L448.93,332.65 L449.02,332.90 L449.10,333.15 L449.19,333.40 L449.27,333.65 L449.36,333.90 L449.46,334.15 L449.55,334.40 L449.64,334.65 L449.73,334.90 L449.82,335.15 L449.92,335.40 L450.01,335.65 L450.09,335.90 L450.18,336.15 L450.26,336.40 L450.34,336.65 L450.42,336.90 L450.49,337.15 L450.56,337.40 L450.63,337.65 L450.70,337.90 L450.77,338.15 L450.84,338.40 L450.90,338.65 L450.96,338.90 L451.03,339.15 L451.09,339.40 L451.15,339.65 L451.21,339.90 L451.26,340.15 L451.32,340.40 L451.37,340.65 L451.43,340.90 L451.48,341.15 L451.53,341.40 L451.58,341.65 L451.63,341.90 L451.68,342.15 L451.73,342.40 L451.77,342.65 L451.82,342.90 L451.86,343.15 L451.90,343.40 L451.95,343.65 L451.99,343.90 L452.03,344.15 L452.07,344.40 L452.12,344.65 L452.16,344.90 L452.20,345.15 L452.24,345.40 L452.28,345.65 L452.33,345.90 L452.37,346.15 L452.41,346.40 L452.46,346.65 L452.50,346.90 L452.55,347.15 L452.59,347.40 L452.64,347.65 L452.69,347.90 L452.74,348.15 L452.79,348.40 L452.84,348.65 L452.89,348.90 L452.94,349.15 L453.00,349.40 L453.05,349.65 L453.10,349.90 L453.16,350.15 L453.21,350.40 L453.26,350.65 L453.32,350.90 L453.37,351.15 L453.42,351.40 L453.48,351.65 L453.53,351.90 L453.58,352.15 L453.63,352.40 L453.68,352.65 L453.73,352.90 L453.78,353.15 L453.83,353.40 L453.88,353.65 L453.93,353.90 L453.98,354.15 L454.03,354.40 L454.08,354.65 L454.13,354.90 L454.18,355.15 L454.23,355.40 L454.27,355.65 L454.32,355.90 L454.37,356.15 L454.41,356.40 L454.45,356.65 L454.49,356.90 L454.53,357.15 L454.57,357.40 L454.61,357.65 L454.64,357.90 L454.67,358.15 L454.70,358.40 L454.73,358.65 L454.76,358.90 L454.79,359.15 L454.82,359.40 L454.85,359.65 L454.88,359.90 L454.91,360.15 L454.94,360.40 L454.97,360.65 L454.99,360.90 L455.01,361.15 L455.03,361.40 L455.05,361.65 L455.07,361.90 L455.08,362.15 L455.09,362.40 L455.10,362.65 L455.10,362.90 L455.10,363.15 L455.10,363.40 L455.09,363.65 L455.09,363.90 L455.08,364.15 L455.07,364.40 L455.05,364.65 L455.04,364.90 L455.02,365.15 L455.01,365.40 L454.99,365.65 L454.97,365.90 L454.94,366.15 L454.92,366.40 L454.90,366.65 L454.87,366.90 L454.85,367.15 L454.82,367.40 L454.79,367.65 L454.76,367.90 L454.73,368.15 L454.69,368.40 L454.64,368.65 L454.58,368.90 L454.51,369.15 L454.44,369.40 L454.36,369.65 L454.27,369.90 L454.18,370.15 L454.09,370.40 L453.99,370.65 L453.89,370.90 L453.79,371.15 L453.69,371.40 L453.59,371.65 L453.49,371.90 L453.39,372.15 L453.29,372.40 L453.18,372.65 L453.06,372.90 L452.95,373.15 L452.82,373.40 L452.70,373.65 L452.57,373.90 L452.44,374.15 L452.31,374.40 L452.18,374.65 L452.04,374.90 L451.91,375.15 L451.77,375.40 L451.64,375.65 L451.50,375.90 L451.37,376.15 L451.23,376.40 L451.09,376.65 L450.95,376.90 L450.80,377.15 L450.66,377.40 L450.51,377.65 L450.36,377.90 L450.21,378.15 L450.06,378.40 L449.91,378.65 L449.77,378.90 L449.62,379.15 L449.48,379.40 L449.34,379.65 L449.20,379.90 L449.07,380.15 L448.93,380.40 L448.78,380.65 L448.63,380.90 L448.49,381.15 L448.34,381.40 L448.20,381.65 L448.07,381.90 L447.95,382.15 L447.84,382.40 L447.75,382.65 L447.67,382.90 L447.62,383.15 L447.56,383.40 L447.51,383.65 L447.46,383.90 L447.41,384.15 L447.37,384.40 L447.33,384.65 L447.29,384.90 L447.26,385.15 L447.24,385.40 L447.22,385.65 L447.20,385.90 L447.19,386.15 L447.19,386.40 L447.18,386.65 L447.17,386.90 L447.17,387.15 L447.16,387.40 L447.16,387.65 L447.15,387.90 L447.15,388.15 L447.14,388.40 L447.14,388.65 L447.14,388.90 L447.13,389.15 L447.13,389.40 L447.13,389.65 L447.12,389.90 L447.08,389.90 L447.07,389.65 L447.07,389.40 L447.07,389.15 L447.06,388.90 L447.06,388.65 L447.06,388.40 L447.05,388.15 L447.05,387.90 L447.04,387.65 L447.04,387.40 L447.03,387.15 L447.03,386.90 L447.02,386.65 L447.01,386.40 L447.01,386.15 L447.00,385.90 L446.98,385.65 L446.96,385.40 L446.94,385.15 L446.91,384.90 L446.87,384.65 L446.83,384.40 L446.79,384.15 L446.74,383.90 L446.69,383.65 L446.64,383.40 L446.58,383.15 L446.53,382.90 L446.45,382.65 L446.36,382.40 L446.25,382.15 L446.13,381.90 L446.00,381.65 L445.86,381.40 L445.71,381.15 L445.57,380.90 L445.42,380.65 L445.27,380.40 L445.13,380.15 L445.00,379.90 L444.86,379.65 L444.72,379.40 L444.58,379.15 L444.43,378.90 L444.29,378.65 L444.14,378.40 L443.99,378.15 L443.84,377.90 L443.69,377.65 L443.54,377.40 L443.40,377.15 L443.25,376.90 L443.11,376.65 L442.97,376.40 L442.83,376.15 L442.70,375.90 L442.56,375.65 L442.43,375.40 L442.29,375.15 L442.16,374.90 L442.02,374.65 L441.89,374.40 L441.76,374.15 L441.63,373.90 L441.50,373.65 L441.38,373.40 L441.25,373.15 L441.14,372.90 L441.02,372.65 L440.91,372.40 L440.81,372.15 L440.71,371.90 L440.61,371.65 L440.51,371.40 L440.41,371.15 L440.31,370.90 L440.21,370.65 L440.11,370.40 L440.02,370.15 L439.93,369.90 L439.84,369.65 L439.76,369.40 L439.69,369.15 L439.62,368.90 L439.56,368.65 L439.51,368.40 L439.47,368.15 L439.44,367.90 L439.41,367.65 L439.38,367.40 L439.35,367.15 L439.33,366.90 L439.30,366.65 L439.28,366.40 L439.26,366.15 L439.23,365.90 L439.21,365.65 L439.19,365.40 L439.18,365.15 L439.16,364.90 L439.15,364.65 L439.13,364.40 L439.12,364.15 L439.11,363.90 L439.11,363.65 L439.10,363.40 L439.10,363.15 L439.10,362.90 L439.10,362.65 L439.11,362.40 L439.12,362.15 L439.13,361.90 L439.15,361.65 L439.17,361.40 L439.19,361.15 L439.21,360.90 L439.23,360.65 L439.26,360.40 L439.29,360.15 L439.32,359.90 L439.35,359.65 L439.38,359.40 L439.41,359.15 L439.44,358.90 L439.47,358.65 L439.50,358.40 L439.53,358.15 L439.56,357.90 L439.59,357.65 L439.63,357.40 L439.67,357.15 L439.71,356.90 L439.75,356.65 L439.79,356.40 L439.83,356.15 L439.88,355.90 L439.93,355.65 L439.97,355.40 L440.02,355.15 L440.07,354.90 L440.12,354.65 L440.17,354.40 L440.22,354.15 L440.27,353.90 L440.32,353.65 L440.37,353.40 L440.42,353.15 L440.47,352.90 L440.52,352.65 L440.57,352.40 L440.62,352.15 L440.67,351.90 L440.72,351.65 L440.78,351.40 L440.83,351.15 L440.88,350.90 L440.94,350.65 L440.99,350.40 L441.04,350.15 L441.10,349.90 L441.15,349.65 L441.20,349.40 L441.26,349.15 L441.31,348.90 L441.36,348.65 L441.41,348.40 L441.46,348.15 L441.51,347.90 L441.56,347.65 L441.61,347.40 L441.65,347.15 L441.70,346.90 L441.74,346.65 L441.79,346.40 L441.83,346.15 L441.87,345.90 L441.92,345.65 L441.96,345.40 L442.00,345.15 L442.04,344.90 L442.08,344.65 L442.13,344.40 L442.17,344.15 L442.21,343.90 L442.25,343.65 L442.30,343.40 L442.34,343.15 L442.38,342.90 L442.43,342.65 L442.47,342.40 L442.52,342.15 L442.57,341.90 L442.62,341.65 L442.67,341.40 L442.72,341.15 L442.77,340.90 L442.83,340.65 L442.88,340.40 L442.94,340.15 L442.99,339.90 L443.05,339.65 L443.11,339.40 L443.17,339.15 L443.24,338.90 L443.30,338.65 L443.36,338.40 L443.43,338.15 L443.50,337.90 L443.57,337.65 L443.64,337.40 L443.71,337.15 L443.78,336.90 L443.86,336.65 L443.94,336.40 L444.02,336.15 L444.11,335.90 L444.19,335.65 L444.28,335.40 L444.38,335.15 L444.47,334.90 L444.56,334.65 L444.65,334.40 L444.74,334.15 L444.84,333.90 L444.93,333.65 L445.01,333.40 L445.10,333.15 L445.18,332.90 L445.27,332.65 L445.37,332.40 L445.47,332.15 L445.58,331.90 L445.68,331.65 L445.79,331.40 L445.88,331.15 L445.97,330.90 L446.06,330.65 L446.13,330.40 L446.18,330.15 L446.22,329.90 L446.25,329.65 L446.25,329.40 L446.24,329.15 L446.23,328.90 L446.22,328.65 L446.20,328.40 L446.17,328.15 L446.14,327.90 L446.11,327.65 L446.07,327.40 L446.04,327.15 L446.00,326.90 L445.95,326.65 L445.91,326.40 L445.86,326.15 L445.82,325.90 L445.77,325.65 L445.72,325.40 L445.68,325.15 L445.63,324.90 L445.58,324.65 L445.53,324.40 L445.47,324.15 L445.41,323.90 L445.35,323.65 L445.28,323.40 L445.21,323.15 L445.14,322.90 L445.07,322.65 L444.99,322.40 L444.91,322.15 L444.84,321.90 L444.76,321.65 L444.68,321.40 L444.60,321.15 L444.52,320.90 L444.43,320.65 L444.34,320.40 L444.25,320.15 L444.15,319.90 L444.06,319.65 L443.95,319.40 L443.85,319.15 L443.75,318.90 L443.65,318.65 L443.55,318.40 L443.45,318.15 L443.36,317.90 L443.26,317.65 L443.18,317.40 L443.10,317.15 L443.02,316.90 L442.94,316.65 L442.87,316.40 L442.79,316.15 L442.72,315.90 L442.65,315.65 L442.58,315.40 L442.51,315.15 L442.44,314.90 L442.38,314.65 L442.32,314.40 L442.26,314.15 L442.21,313.90 L442.16,313.65 L442.11,313.40 L442.07,313.15 L442.04,312.90 L442.00,312.65 L441.97,312.40 L441.93,312.15 L441.90,311.90 L441.88,311.65 L441.86,311.40 L441.85,311.15 L441.85,310.90 L441.86,310.65 L441.88,310.40 L441.90,310.15 L441.93,309.90 L441.96,309.65 L442.00,309.40 L442.03,309.15 L442.06,308.90 L442.09,308.65 L442.13,308.40 L442.16,308.15 L442.20,307.90 L442.24,307.65 L442.28,307.40 L442.32,307.15 L442.37,306.90 L442.41,306.65 L442.46,306.40 L442.51,306.15 L442.56,305.90 L442.61,305.65 L442.66,305.40 L442.72,305.15 L442.77,304.90 L442.83,304.65 L442.90,304.40 L442.97,304.15 L443.04,303.90 L443.12,303.65 L443.20,303.40 L443.28,303.15 L443.36,302.90 L443.45,302.65 L443.54,302.40 L443.63,302.15 L443.72,301.90 L443.81,301.65 L443.90,301.40 L443.99,301.15 L444.09,300.90 L444.18,300.65 L444.29,300.40 L444.39,300.15 L444.50,299.90 L444.61,299.65 L444.72,299.40 L444.84,299.15 L444.95,298.90 L445.06,298.65 L445.18,298.40 L445.29,298.15 L445.39,297.90 L445.50,297.65 L445.60,297.40 L445.70,297.15 L445.79,296.90 L445.88,296.65 L445.98,296.40 L446.07,296.15 L446.17,295.90 L446.27,295.65 L446.36,295.40 L446.45,295.15 L446.53,294.90 L446.60,294.65 L446.66,294.40 L446.71,294.15 L446.74,293.90 L446.76,293.65 L446.78,293.40 L446.80,293.15 L446.82,292.90 L446.83,292.65 L446.85,292.40 L446.86,292.15 L446.87,291.90 L446.89,291.65 L446.90,291.40 L446.91,291.15 L446.92,290.90 L446.93,290.65 L446.93,290.40 L446.94,290.15 L446.95,289.90 L446.96,289.65 L446.97,289.40 L446.97,289.15 L446.98,288.90 L446.99,288.65 L447.00,288.40 L447.01,288.15 L447.01,287.90 L447.02,287.65 L447.03,287.40 L447.04,287.15 L447.05,286.90 L447.07,286.65 L447.08,286.40 Z" fill="#AB07E0" stroke="#000" stroke-width="2.5" stroke-linejoin="round"/>
<line x1="443.10" y1="311.00" x2="451.10" y2="311.00" stroke="#222" stroke-width="0.8" stroke-dasharray="0.8 1.5"/>
<line x1="443.04" y1="348.00" x2="451.46" y2="348.00" stroke="#000" stroke-width="1.7" stroke-dasharray="3.8 3.3"/>
<line x1="440.50" y1="366.10" x2="453.70" y2="366.10" stroke="#222" stroke-width="0.8" stroke-dasharray="0.8 1.5"/>
<path d="M477.50,294.20 L477.52,294.45 L477.53,294.70 L477.55,294.95 L477.57,295.20 L477.59,295.45 L477.61,295.70 L477.63,295.95 L477.65,296.20 L477.67,296.45 L477.69,296.70 L477.71,296.95 L477.73,297.20 L477.75,297.45 L477.77,297.70 L477.77,297.95 L475.23,297.95 L475.23,297.70 L475.25,297.45 L475.27,297.20 L475.29,296.95 L475.31,296.70 L475.33,296.45 L475.35,296.20 L475.37,295.95 L475.39,295.70 L475.41,295.45 L475.43,295.20 L475.45,294.95 L475.47,294.70 L475.48,294.45 L475.50,294.20 Z" fill="#000"/>
<path d="M477.77,387.20 L477.77,387.45 L477.76,387.70 L477.75,387.95 L477.73,388.20 L477.72,388.45 L477.70,388.70 L477.69,388.95 L477.67,389.20 L477.66,389.45 L477.64,389.70 L477.62,389.95 L477.61,390.20 L477.59,390.45 L477.57,390.70 L477.56,390.95 L477.54,391.20 L477.52,391.45 L477.51,391.70 L477.50,391.80 L475.50,391.80 L475.49,391.70 L475.48,391.45 L475.46,391.20 L475.44,390.95 L475.43,390.70 L475.41,390.45 L475.39,390.20 L475.38,389.95 L475.36,389.70 L475.34,389.45 L475.33,389.20 L475.31,388.95 L475.30,388.70 L475.28,388.45 L475.27,388.20 L475.25,387.95 L475.24,387.70 L475.23,387.45 L475.23,387.20 Z" fill="#000"/>
<path d="M476.52,297.70 L476.55,297.95 L476.57,298.20 L476.59,298.45 L476.61,298.70 L476.63,298.95 L476.65,299.20 L476.68,299.45 L476.70,299.70 L476.72,299.95 L476.75,300.20 L476.78,300.45 L476.81,300.70 L476.84,300.95 L476.88,301.20 L476.93,301.45 L476.98,301.70 L477.04,301.95 L477.11,302.20 L477.17,302.45 L477.24,302.70 L477.31,302.95 L477.37,303.20 L477.43,303.45 L477.49,303.70 L477.54,303.95 L477.59,304.20 L477.63,304.45 L477.67,304.70 L477.72,304.95 L477.76,305.20 L477.80,305.45 L477.84,305.70 L477.87,305.95 L477.91,306.20 L477.94,306.45 L477.97,306.70 L478.00,306.95 L478.03,307.20 L478.05,307.45 L478.06,307.70 L478.08,307.95 L478.10,308.20 L478.12,308.45 L478.14,308.70 L478.15,308.95 L478.17,309.20 L478.18,309.45 L478.20,309.70 L478.21,309.95 L478.22,310.20 L478.23,310.45 L478.24,310.70 L478.24,310.95 L478.25,311.20 L478.25,311.45 L478.25,311.70 L478.25,311.95 L478.24,312.20 L478.23,312.45 L478.23,312.70 L478.22,312.95 L478.20,313.20 L478.19,313.45 L478.18,313.70 L478.16,313.95 L478.15,314.20 L478.13,314.45 L478.11,314.70 L478.09,314.95 L478.07,315.20 L478.05,315.45 L478.03,315.70 L478.01,315.95 L477.97,316.20 L477.94,316.45 L477.90,316.70 L477.85,316.95 L477.81,317.20 L477.76,317.45 L477.71,317.70 L477.66,317.95 L477.61,318.20 L477.56,318.45 L477.51,318.70 L477.46,318.95 L477.41,319.20 L477.36,319.45 L477.31,319.70 L477.25,319.95 L477.19,320.20 L477.14,320.45 L477.08,320.70 L477.03,320.95 L476.98,321.20 L476.93,321.45 L476.89,321.70 L476.86,321.95 L476.83,322.20 L476.80,322.45 L476.77,322.70 L476.74,322.95 L476.71,323.20 L476.69,323.45 L476.66,323.70 L476.64,323.95 L476.63,324.20 L476.61,324.45 L476.60,324.70 L476.60,324.95 L476.60,325.20 L476.60,325.45 L476.60,325.70 L476.60,325.95 L476.60,326.20 L476.60,326.45 L476.60,326.70 L476.60,326.95 L476.60,327.20 L476.60,327.45 L476.60,327.70 L476.60,327.95 L476.60,328.20 L476.60,328.45 L476.60,328.70 L476.60,328.95 L476.61,329.20 L476.61,329.45 L476.61,329.70 L476.61,329.95 L476.61,330.20 L476.61,330.45 L476.61,330.70 L476.61,330.95 L476.61,331.20 L476.62,331.45 L476.62,331.70 L476.62,331.95 L476.62,332.20 L476.62,332.45 L476.62,332.70 L476.63,332.95 L476.63,333.20 L476.63,333.45 L476.63,333.70 L476.63,333.95 L476.64,334.20 L476.64,334.45 L476.64,334.70 L476.64,334.95 L476.65,335.20 L476.65,335.45 L476.68,335.70 L476.78,335.95 L476.94,336.20 L477.15,336.45 L477.39,336.70 L477.66,336.95 L477.94,337.20 L478.21,337.45 L478.47,337.70 L478.71,337.95 L478.92,338.20 L479.13,338.45 L479.33,338.70 L479.54,338.95 L479.75,339.20 L479.96,339.45 L480.17,339.70 L480.38,339.95 L480.58,340.20 L480.79,340.45 L481.00,340.70 L481.21,340.95 L481.42,341.20 L481.65,341.45 L481.88,341.70 L482.12,341.95 L482.35,342.20 L482.59,342.45 L482.82,342.70 L483.03,342.95 L483.24,343.20 L483.42,343.45 L483.59,343.70 L483.73,343.95 L483.85,344.20 L483.96,344.45 L484.08,344.70 L484.20,344.95 L484.31,345.20 L484.41,345.45 L484.51,345.70 L484.61,345.95 L484.69,346.20 L484.76,346.45 L484.83,346.70 L484.88,346.95 L484.92,347.20 L484.94,347.45 L484.95,347.70 L484.93,347.95 L484.88,348.20 L484.80,348.45 L484.70,348.70 L484.58,348.95 L484.46,349.20 L484.33,349.45 L484.20,349.70 L484.07,349.95 L483.96,350.20 L483.84,350.45 L483.72,350.70 L483.60,350.95 L483.47,351.20 L483.33,351.45 L483.19,351.70 L483.05,351.95 L482.89,352.20 L482.72,352.45 L482.55,352.70 L482.35,352.95 L482.12,353.20 L481.87,353.45 L481.60,353.70 L481.32,353.95 L481.04,354.20 L480.77,354.45 L480.52,354.70 L480.29,354.95 L480.08,355.20 L479.85,355.45 L479.62,355.70 L479.39,355.95 L479.17,356.20 L478.98,356.45 L478.82,356.70 L478.71,356.95 L478.66,357.20 L478.65,357.45 L478.66,357.70 L478.68,357.95 L478.70,358.20 L478.73,358.45 L478.77,358.70 L478.81,358.95 L478.85,359.20 L478.89,359.45 L478.94,359.70 L478.98,359.95 L479.03,360.20 L479.07,360.45 L479.11,360.70 L479.14,360.95 L479.18,361.20 L479.21,361.45 L479.25,361.70 L479.29,361.95 L479.32,362.20 L479.36,362.45 L479.40,362.70 L479.44,362.95 L479.47,363.20 L479.51,363.45 L479.54,363.70 L479.57,363.95 L479.59,364.20 L479.62,364.45 L479.63,364.70 L479.65,364.95 L479.66,365.20 L479.67,365.45 L479.68,365.70 L479.69,365.95 L479.70,366.20 L479.70,366.45 L479.71,366.70 L479.72,366.95 L479.73,367.20 L479.73,367.45 L479.74,367.70 L479.74,367.95 L479.74,368.20 L479.75,368.45 L479.75,368.70 L479.75,368.95 L479.75,369.20 L479.74,369.45 L479.74,369.70 L479.73,369.95 L479.71,370.20 L479.70,370.45 L479.68,370.70 L479.66,370.95 L479.64,371.20 L479.61,371.45 L479.59,371.70 L479.56,371.95 L479.54,372.20 L479.51,372.45 L479.48,372.70 L479.46,372.95 L479.43,373.20 L479.39,373.45 L479.36,373.70 L479.32,373.95 L479.27,374.20 L479.23,374.45 L479.18,374.70 L479.12,374.95 L479.07,375.20 L479.01,375.45 L478.96,375.70 L478.90,375.95 L478.84,376.20 L478.78,376.45 L478.72,376.70 L478.66,376.95 L478.60,377.20 L478.54,377.45 L478.48,377.70 L478.41,377.95 L478.34,378.20 L478.27,378.45 L478.20,378.70 L478.13,378.95 L478.05,379.20 L477.98,379.45 L477.90,379.70 L477.82,379.95 L477.75,380.20 L477.67,380.45 L477.58,380.70 L477.48,380.95 L477.37,381.20 L477.26,381.45 L477.15,381.70 L477.04,381.95 L476.95,382.20 L476.86,382.45 L476.80,382.70 L476.76,382.95 L476.73,383.20 L476.71,383.45 L476.69,383.70 L476.68,383.95 L476.67,384.20 L476.65,384.45 L476.64,384.70 L476.63,384.95 L476.62,385.20 L476.61,385.45 L476.61,385.70 L476.60,385.95 L476.59,386.20 L476.58,386.45 L476.57,386.70 L476.55,386.95 L476.54,387.20 L476.52,387.45 L476.48,387.45 L476.46,387.20 L476.45,386.95 L476.43,386.70 L476.42,386.45 L476.41,386.20 L476.40,385.95 L476.39,385.70 L476.39,385.45 L476.38,385.20 L476.37,384.95 L476.36,384.70 L476.35,384.45 L476.33,384.20 L476.32,383.95 L476.31,383.70 L476.29,383.45 L476.27,383.20 L476.24,382.95 L476.20,382.70 L476.14,382.45 L476.05,382.20 L475.96,381.95 L475.85,381.70 L475.74,381.45 L475.63,381.20 L475.52,380.95 L475.42,380.70 L475.33,380.45 L475.25,380.20 L475.18,379.95 L475.10,379.70 L475.02,379.45 L474.95,379.20 L474.87,378.95 L474.80,378.70 L474.73,378.45 L474.66,378.20 L474.59,377.95 L474.52,377.70 L474.46,377.45 L474.40,377.20 L474.34,376.95 L474.28,376.70 L474.22,376.45 L474.16,376.20 L474.10,375.95 L474.04,375.70 L473.99,375.45 L473.93,375.20 L473.88,374.95 L473.82,374.70 L473.77,374.45 L473.73,374.20 L473.68,373.95 L473.64,373.70 L473.61,373.45 L473.57,373.20 L473.54,372.95 L473.52,372.70 L473.49,372.45 L473.46,372.20 L473.44,371.95 L473.41,371.70 L473.39,371.45 L473.36,371.20 L473.34,370.95 L473.32,370.70 L473.30,370.45 L473.29,370.20 L473.27,369.95 L473.26,369.70 L473.26,369.45 L473.25,369.20 L473.25,368.95 L473.25,368.70 L473.25,368.45 L473.26,368.20 L473.26,367.95 L473.26,367.70 L473.27,367.45 L473.27,367.20 L473.28,366.95 L473.29,366.70 L473.30,366.45 L473.30,366.20 L473.31,365.95 L473.32,365.70 L473.33,365.45 L473.34,365.20 L473.35,364.95 L473.37,364.70 L473.38,364.45 L473.41,364.20 L473.43,363.95 L473.46,363.70 L473.49,363.45 L473.53,363.20 L473.56,362.95 L473.60,362.70 L473.64,362.45 L473.68,362.20 L473.71,361.95 L473.75,361.70 L473.79,361.45 L473.82,361.20 L473.86,360.95 L473.89,360.70 L473.93,360.45 L473.97,360.20 L474.02,359.95 L474.06,359.70 L474.11,359.45 L474.15,359.20 L474.19,358.95 L474.23,358.70 L474.27,358.45 L474.30,358.20 L474.32,357.95 L474.34,357.70 L474.35,357.45 L474.34,357.20 L474.29,356.95 L474.18,356.70 L474.02,356.45 L473.83,356.20 L473.61,355.95 L473.38,355.70 L473.15,355.45 L472.92,355.20 L472.71,354.95 L472.48,354.70 L472.23,354.45 L471.96,354.20 L471.68,353.95 L471.40,353.70 L471.13,353.45 L470.88,353.20 L470.65,352.95 L470.45,352.70 L470.28,352.45 L470.11,352.20 L469.95,351.95 L469.81,351.70 L469.67,351.45 L469.53,351.20 L469.40,350.95 L469.28,350.70 L469.16,350.45 L469.04,350.20 L468.93,349.95 L468.80,349.70 L468.67,349.45 L468.54,349.20 L468.42,348.95 L468.30,348.70 L468.20,348.45 L468.12,348.20 L468.07,347.95 L468.05,347.70 L468.06,347.45 L468.08,347.20 L468.12,346.95 L468.17,346.70 L468.24,346.45 L468.31,346.20 L468.39,345.95 L468.49,345.70 L468.59,345.45 L468.69,345.20 L468.80,344.95 L468.92,344.70 L469.04,344.45 L469.15,344.20 L469.27,343.95 L469.41,343.70 L469.58,343.45 L469.76,343.20 L469.97,342.95 L470.18,342.70 L470.41,342.45 L470.65,342.20 L470.88,341.95 L471.12,341.70 L471.35,341.45 L471.58,341.20 L471.79,340.95 L472.00,340.70 L472.21,340.45 L472.42,340.20 L472.62,339.95 L472.83,339.70 L473.04,339.45 L473.25,339.20 L473.46,338.95 L473.67,338.70 L473.87,338.45 L474.08,338.20 L474.29,337.95 L474.53,337.70 L474.79,337.45 L475.06,337.20 L475.34,336.95 L475.61,336.70 L475.85,336.45 L476.06,336.20 L476.22,335.95 L476.32,335.70 L476.35,335.45 L476.35,335.20 L476.36,334.95 L476.36,334.70 L476.36,334.45 L476.36,334.20 L476.37,333.95 L476.37,333.70 L476.37,333.45 L476.37,333.20 L476.37,332.95 L476.38,332.70 L476.38,332.45 L476.38,332.20 L476.38,331.95 L476.38,331.70 L476.38,331.45 L476.39,331.20 L476.39,330.95 L476.39,330.70 L476.39,330.45 L476.39,330.20 L476.39,329.95 L476.39,329.70 L476.39,329.45 L476.39,329.20 L476.40,328.95 L476.40,328.70 L476.40,328.45 L476.40,328.20 L476.40,327.95 L476.40,327.70 L476.40,327.45 L476.40,327.20 L476.40,326.95 L476.40,326.70 L476.40,326.45 L476.40,326.20 L476.40,325.95 L476.40,325.70 L476.40,325.45 L476.40,325.20 L476.40,324.95 L476.40,324.70 L476.39,324.45 L476.37,324.20 L476.36,323.95 L476.34,323.70 L476.31,323.45 L476.29,323.20 L476.26,322.95 L476.23,322.70 L476.20,322.45 L476.17,322.20 L476.14,321.95 L476.11,321.70 L476.07,321.45 L476.02,321.20 L475.97,320.95 L475.92,320.70 L475.86,320.45 L475.81,320.20 L475.75,319.95 L475.69,319.70 L475.64,319.45 L475.59,319.20 L475.54,318.95 L475.49,318.70 L475.44,318.45 L475.39,318.20 L475.34,317.95 L475.29,317.70 L475.24,317.45 L475.19,317.20 L475.15,316.95 L475.10,316.70 L475.06,316.45 L475.03,316.20 L474.99,315.95 L474.97,315.70 L474.95,315.45 L474.93,315.20 L474.91,314.95 L474.89,314.70 L474.87,314.45 L474.85,314.20 L474.84,313.95 L474.82,313.70 L474.81,313.45 L474.80,313.20 L474.78,312.95 L474.77,312.70 L474.77,312.45 L474.76,312.20 L474.75,311.95 L474.75,311.70 L474.75,311.45 L474.75,311.20 L474.76,310.95 L474.76,310.70 L474.77,310.45 L474.78,310.20 L474.79,309.95 L474.80,309.70 L474.82,309.45 L474.83,309.20 L474.85,308.95 L474.86,308.70 L474.88,308.45 L474.90,308.20 L474.92,307.95 L474.94,307.70 L474.95,307.45 L474.97,307.20 L475.00,306.95 L475.03,306.70 L475.06,306.45 L475.09,306.20 L475.13,305.95 L475.16,305.70 L475.20,305.45 L475.24,305.20 L475.28,304.95 L475.33,304.70 L475.37,304.45 L475.41,304.20 L475.46,303.95 L475.51,303.70 L475.57,303.45 L475.63,303.20 L475.69,302.95 L475.76,302.70 L475.83,302.45 L475.89,302.20 L475.96,301.95 L476.02,301.70 L476.07,301.45 L476.12,301.20 L476.16,300.95 L476.19,300.70 L476.22,300.45 L476.25,300.20 L476.28,299.95 L476.30,299.70 L476.32,299.45 L476.35,299.20 L476.37,298.95 L476.39,298.70 L476.41,298.45 L476.43,298.20 L476.45,297.95 L476.48,297.70 Z" fill="#0000FF" stroke="#000" stroke-width="2.5" stroke-linejoin="round"/>
<line x1="469.60" y1="347.70" x2="483.70" y2="347.70" stroke="#000" stroke-width="1.7" stroke-dasharray="3.8 3.3"/>
<path d="M525.90,334.20 L525.92,334.45 L525.93,334.70 L525.95,334.95 L525.97,335.20 L525.99,335.45 L526.01,335.70 L526.03,335.95 L526.05,336.20 L526.07,336.45 L526.09,336.70 L526.11,336.95 L526.13,337.20 L526.15,337.45 L526.17,337.70 L526.17,337.95 L523.63,337.95 L523.63,337.70 L523.65,337.45 L523.67,337.20 L523.69,336.95 L523.71,336.70 L523.73,336.45 L523.75,336.20 L523.77,335.95 L523.79,335.70 L523.81,335.45 L523.83,335.20 L523.85,334.95 L523.87,334.70 L523.88,334.45 L523.90,334.20 Z" fill="#000"/>
<path d="M526.17,385.70 L526.17,385.95 L526.16,386.20 L526.12,386.45 L526.09,386.70 L526.06,386.95 L526.03,387.20 L526.01,387.45 L525.98,387.70 L525.96,387.95 L525.94,388.20 L525.93,388.45 L525.91,388.70 L525.91,388.95 L525.90,389.20 L525.90,389.30 L523.90,389.30 L523.90,389.20 L523.89,388.95 L523.89,388.70 L523.87,388.45 L523.86,388.20 L523.84,387.95 L523.82,387.70 L523.79,387.45 L523.77,387.20 L523.74,386.95 L523.71,386.70 L523.68,386.45 L523.64,386.20 L523.63,385.95 L523.63,385.70 Z" fill="#000"/>
<path d="M524.92,337.70 L524.95,337.95 L524.97,338.20 L524.99,338.45 L525.01,338.70 L525.02,338.95 L525.04,339.20 L525.06,339.45 L525.09,339.70 L525.11,339.95 L525.14,340.20 L525.17,340.45 L525.20,340.70 L525.24,340.95 L525.30,341.20 L525.39,341.45 L525.51,341.70 L525.65,341.95 L525.80,342.20 L525.96,342.45 L526.10,342.70 L526.23,342.95 L526.34,343.20 L526.45,343.45 L526.57,343.70 L526.68,343.95 L526.79,344.20 L526.88,344.45 L526.97,344.70 L527.04,344.95 L527.10,345.20 L527.16,345.45 L527.22,345.70 L527.27,345.95 L527.32,346.20 L527.37,346.45 L527.40,346.70 L527.43,346.95 L527.45,347.20 L527.45,347.45 L527.44,347.70 L527.42,347.95 L527.40,348.20 L527.36,348.45 L527.32,348.70 L527.28,348.95 L527.23,349.20 L527.17,349.45 L527.12,349.70 L527.06,349.95 L527.00,350.20 L526.92,350.45 L526.83,350.70 L526.72,350.95 L526.61,351.20 L526.50,351.45 L526.38,351.70 L526.27,351.95 L526.16,352.20 L526.02,352.45 L525.88,352.70 L525.74,352.95 L525.60,353.20 L525.49,353.45 L525.40,353.70 L525.35,353.95 L525.34,354.20 L525.32,354.45 L525.31,354.70 L525.30,354.95 L525.29,355.20 L525.28,355.45 L525.27,355.70 L525.27,355.95 L525.26,356.20 L525.26,356.45 L525.25,356.70 L525.25,356.95 L525.25,357.20 L525.26,357.45 L525.29,357.70 L525.35,357.95 L525.43,358.20 L525.53,358.45 L525.63,358.70 L525.74,358.95 L525.85,359.20 L525.96,359.45 L526.10,359.70 L526.24,359.95 L526.40,360.20 L526.58,360.45 L526.76,360.70 L526.94,360.95 L527.14,361.20 L527.33,361.45 L527.53,361.70 L527.72,361.95 L527.91,362.20 L528.09,362.45 L528.26,362.70 L528.42,362.95 L528.57,363.20 L528.72,363.45 L528.87,363.70 L529.01,363.95 L529.16,364.20 L529.30,364.45 L529.44,364.70 L529.58,364.95 L529.72,365.20 L529.85,365.45 L529.99,365.70 L530.12,365.95 L530.25,366.20 L530.38,366.45 L530.51,366.70 L530.64,366.95 L530.76,367.20 L530.88,367.45 L531.01,367.70 L531.13,367.95 L531.25,368.20 L531.37,368.45 L531.49,368.70 L531.62,368.95 L531.74,369.20 L531.86,369.45 L531.98,369.70 L532.09,369.95 L532.19,370.20 L532.28,370.45 L532.37,370.70 L532.44,370.95 L532.50,371.20 L532.56,371.45 L532.63,371.70 L532.69,371.95 L532.75,372.20 L532.80,372.45 L532.85,372.70 L532.88,372.95 L532.92,373.20 L532.94,373.45 L532.95,373.70 L532.95,373.95 L532.93,374.20 L532.90,374.45 L532.85,374.70 L532.79,374.95 L532.72,375.20 L532.64,375.45 L532.56,375.70 L532.46,375.95 L532.37,376.20 L532.27,376.45 L532.16,376.70 L532.02,376.95 L531.85,377.20 L531.65,377.45 L531.44,377.70 L531.21,377.95 L530.96,378.20 L530.71,378.45 L530.46,378.70 L530.20,378.95 L529.94,379.20 L529.65,379.45 L529.33,379.70 L529.01,379.95 L528.67,380.20 L528.34,380.45 L528.02,380.70 L527.71,380.95 L527.40,381.20 L527.07,381.45 L526.74,381.70 L526.42,381.95 L526.12,382.20 L525.88,382.45 L525.70,382.70 L525.59,382.95 L525.50,383.20 L525.42,383.45 L525.34,383.70 L525.28,383.95 L525.22,384.20 L525.17,384.45 L525.12,384.70 L525.08,384.95 L525.04,385.20 L525.01,385.45 L524.97,385.70 L524.94,385.95 L524.86,385.95 L524.83,385.70 L524.79,385.45 L524.76,385.20 L524.72,384.95 L524.68,384.70 L524.63,384.45 L524.58,384.20 L524.52,383.95 L524.46,383.70 L524.38,383.45 L524.30,383.20 L524.21,382.95 L524.10,382.70 L523.92,382.45 L523.68,382.20 L523.38,381.95 L523.06,381.70 L522.73,381.45 L522.40,381.20 L522.09,380.95 L521.78,380.70 L521.46,380.45 L521.13,380.20 L520.79,379.95 L520.47,379.70 L520.15,379.45 L519.86,379.20 L519.60,378.95 L519.34,378.70 L519.09,378.45 L518.84,378.20 L518.59,377.95 L518.36,377.70 L518.15,377.45 L517.95,377.20 L517.78,376.95 L517.64,376.70 L517.53,376.45 L517.43,376.20 L517.34,375.95 L517.24,375.70 L517.16,375.45 L517.08,375.20 L517.01,374.95 L516.95,374.70 L516.90,374.45 L516.87,374.20 L516.85,373.95 L516.85,373.70 L516.86,373.45 L516.88,373.20 L516.92,372.95 L516.95,372.70 L517.00,372.45 L517.05,372.20 L517.11,371.95 L517.17,371.70 L517.24,371.45 L517.30,371.20 L517.36,370.95 L517.43,370.70 L517.52,370.45 L517.61,370.20 L517.71,369.95 L517.82,369.70 L517.94,369.45 L518.06,369.20 L518.18,368.95 L518.31,368.70 L518.43,368.45 L518.55,368.20 L518.67,367.95 L518.79,367.70 L518.92,367.45 L519.04,367.20 L519.16,366.95 L519.29,366.70 L519.42,366.45 L519.55,366.20 L519.68,365.95 L519.81,365.70 L519.95,365.45 L520.08,365.20 L520.22,364.95 L520.36,364.70 L520.50,364.45 L520.64,364.20 L520.79,363.95 L520.93,363.70 L521.08,363.45 L521.23,363.20 L521.38,362.95 L521.54,362.70 L521.71,362.45 L521.89,362.20 L522.08,361.95 L522.27,361.70 L522.47,361.45 L522.66,361.20 L522.86,360.95 L523.04,360.70 L523.22,360.45 L523.40,360.20 L523.56,359.95 L523.70,359.70 L523.84,359.45 L523.95,359.20 L524.06,358.95 L524.17,358.70 L524.27,358.45 L524.37,358.20 L524.45,357.95 L524.51,357.70 L524.54,357.45 L524.55,357.20 L524.55,356.95 L524.55,356.70 L524.54,356.45 L524.54,356.20 L524.53,355.95 L524.53,355.70 L524.52,355.45 L524.51,355.20 L524.50,354.95 L524.49,354.70 L524.48,354.45 L524.46,354.20 L524.45,353.95 L524.40,353.70 L524.31,353.45 L524.20,353.20 L524.06,352.95 L523.92,352.70 L523.78,352.45 L523.64,352.20 L523.53,351.95 L523.42,351.70 L523.30,351.45 L523.19,351.20 L523.08,350.95 L522.97,350.70 L522.88,350.45 L522.80,350.20 L522.74,349.95 L522.68,349.70 L522.63,349.45 L522.57,349.20 L522.52,348.95 L522.48,348.70 L522.44,348.45 L522.40,348.20 L522.38,347.95 L522.36,347.70 L522.35,347.45 L522.35,347.20 L522.37,346.95 L522.40,346.70 L522.43,346.45 L522.48,346.20 L522.53,345.95 L522.58,345.70 L522.64,345.45 L522.70,345.20 L522.76,344.95 L522.83,344.70 L522.92,344.45 L523.01,344.20 L523.12,343.95 L523.23,343.70 L523.35,343.45 L523.46,343.20 L523.57,342.95 L523.70,342.70 L523.84,342.45 L524.00,342.20 L524.15,341.95 L524.29,341.70 L524.41,341.45 L524.50,341.20 L524.56,340.95 L524.60,340.70 L524.63,340.45 L524.66,340.20 L524.69,339.95 L524.71,339.70 L524.74,339.45 L524.76,339.20 L524.78,338.95 L524.79,338.70 L524.81,338.45 L524.83,338.20 L524.85,337.95 L524.88,337.70 Z" fill="#AB07E0" stroke="#000" stroke-width="2.5" stroke-linejoin="round"/>
<line x1="518.49" y1="372.80" x2="531.61" y2="372.80" stroke="#000" stroke-width="1.7" stroke-dasharray="3.8 3.3"/>
<line x1="518.46" y1="375.60" x2="531.34" y2="375.60" stroke="#222" stroke-width="0.8" stroke-dasharray="0.8 1.5"/>
<path d="M555.00,339.30 L555.02,339.55 L555.04,339.80 L555.07,340.05 L555.10,340.30 L555.14,340.55 L555.18,340.80 L555.22,341.05 L555.26,341.30 L555.27,341.55 L555.27,341.80 L552.73,341.80 L552.73,341.55 L552.74,341.30 L552.78,341.05 L552.82,340.80 L552.86,340.55 L552.90,340.30 L552.93,340.05 L552.96,339.80 L552.98,339.55 L553.00,339.30 Z" fill="#000"/>
<path d="M555.27,384.80 L555.27,385.05 L555.26,385.30 L555.23,385.55 L555.20,385.80 L555.18,386.05 L555.15,386.30 L555.12,386.55 L555.09,386.80 L555.07,387.05 L555.04,387.30 L555.01,387.55 L555.00,387.70 L553.00,387.70 L552.99,387.55 L552.96,387.30 L552.93,387.05 L552.91,386.80 L552.88,386.55 L552.85,386.30 L552.82,386.05 L552.80,385.80 L552.77,385.55 L552.74,385.30 L552.73,385.05 L552.73,384.80 Z" fill="#000"/>
<path d="M554.06,341.55 L554.11,341.80 L554.17,342.05 L554.24,342.30 L554.31,342.55 L554.39,342.80 L554.47,343.05 L554.57,343.30 L554.68,343.55 L554.81,343.80 L554.94,344.05 L555.07,344.30 L555.19,344.55 L555.29,344.80 L555.36,345.05 L555.43,345.30 L555.49,345.55 L555.56,345.80 L555.62,346.05 L555.67,346.30 L555.72,346.55 L555.76,346.80 L555.80,347.05 L555.83,347.30 L555.84,347.55 L555.85,347.80 L555.84,348.05 L555.83,348.30 L555.80,348.55 L555.76,348.80 L555.71,349.05 L555.66,349.30 L555.60,349.55 L555.54,349.80 L555.47,350.05 L555.41,350.30 L555.34,350.55 L555.23,350.80 L555.10,351.05 L554.94,351.30 L554.78,351.55 L554.62,351.80 L554.49,352.05 L554.39,352.30 L554.34,352.55 L554.32,352.80 L554.29,353.05 L554.27,353.30 L554.25,353.55 L554.24,353.80 L554.22,354.05 L554.21,354.30 L554.21,354.55 L554.20,354.80 L554.20,355.05 L554.20,355.30 L554.20,355.55 L554.20,355.80 L554.20,356.05 L554.20,356.30 L554.20,356.55 L554.20,356.80 L554.20,357.05 L554.20,357.30 L554.20,357.55 L554.20,357.80 L554.20,358.05 L554.20,358.30 L554.20,358.55 L554.20,358.80 L554.20,359.05 L554.20,359.30 L554.20,359.55 L554.20,359.80 L554.20,360.05 L554.20,360.30 L554.20,360.55 L554.20,360.80 L554.20,361.05 L554.21,361.30 L554.21,361.55 L554.21,361.80 L554.21,362.05 L554.21,362.30 L554.21,362.55 L554.21,362.80 L554.21,363.05 L554.21,363.30 L554.21,363.55 L554.21,363.80 L554.21,364.05 L554.21,364.30 L554.22,364.55 L554.22,364.80 L554.22,365.05 L554.22,365.30 L554.22,365.55 L554.22,365.80 L554.22,366.05 L554.22,366.30 L554.23,366.55 L554.23,366.80 L554.23,367.05 L554.23,367.30 L554.23,367.55 L554.23,367.80 L554.24,368.05 L554.24,368.30 L554.24,368.55 L554.24,368.80 L554.25,369.05 L554.25,369.30 L554.25,369.55 L554.28,369.80 L554.40,370.05 L554.58,370.30 L554.80,370.55 L555.05,370.80 L555.30,371.05 L555.61,371.30 L556.00,371.55 L556.44,371.80 L556.90,372.05 L557.38,372.30 L557.84,372.55 L558.32,372.80 L558.83,373.05 L559.36,373.30 L559.88,373.55 L560.38,373.80 L560.84,374.05 L561.38,374.30 L561.90,374.55 L562.22,374.80 L562.24,375.05 L562.19,375.30 L562.09,375.55 L561.97,375.80 L561.84,376.05 L561.68,376.30 L561.45,376.55 L561.13,376.80 L560.76,377.05 L560.35,377.30 L559.94,377.55 L559.54,377.80 L559.18,378.05 L558.83,378.30 L558.48,378.55 L558.13,378.80 L557.78,379.05 L557.43,379.30 L557.10,379.55 L556.79,379.80 L556.49,380.05 L556.19,380.30 L555.88,380.55 L555.56,380.80 L555.26,381.05 L554.99,381.30 L554.76,381.55 L554.58,381.80 L554.46,382.05 L554.40,382.30 L554.35,382.55 L554.31,382.80 L554.27,383.05 L554.23,383.30 L554.20,383.55 L554.18,383.80 L554.15,384.05 L554.13,384.30 L554.10,384.55 L554.07,384.80 L554.04,385.05 L553.96,385.05 L553.93,384.80 L553.90,384.55 L553.87,384.30 L553.85,384.05 L553.82,383.80 L553.80,383.55 L553.77,383.30 L553.73,383.05 L553.69,382.80 L553.65,382.55 L553.60,382.30 L553.54,382.05 L553.42,381.80 L553.24,381.55 L553.01,381.30 L552.74,381.05 L552.44,380.80 L552.12,380.55 L551.81,380.30 L551.51,380.05 L551.21,379.80 L550.90,379.55 L550.57,379.30 L550.22,379.05 L549.87,378.80 L549.52,378.55 L549.17,378.30 L548.82,378.05 L548.46,377.80 L548.06,377.55 L547.65,377.30 L547.24,377.05 L546.87,376.80 L546.55,376.55 L546.32,376.30 L546.16,376.05 L546.03,375.80 L545.91,375.55 L545.81,375.30 L545.76,375.05 L545.78,374.80 L546.10,374.55 L546.62,374.30 L547.16,374.05 L547.62,373.80 L548.12,373.55 L548.64,373.30 L549.17,373.05 L549.68,372.80 L550.16,372.55 L550.62,372.30 L551.10,372.05 L551.56,371.80 L552.00,371.55 L552.39,371.30 L552.70,371.05 L552.95,370.80 L553.20,370.55 L553.42,370.30 L553.60,370.05 L553.72,369.80 L553.75,369.55 L553.75,369.30 L553.75,369.05 L553.76,368.80 L553.76,368.55 L553.76,368.30 L553.76,368.05 L553.77,367.80 L553.77,367.55 L553.77,367.30 L553.77,367.05 L553.77,366.80 L553.77,366.55 L553.78,366.30 L553.78,366.05 L553.78,365.80 L553.78,365.55 L553.78,365.30 L553.78,365.05 L553.78,364.80 L553.78,364.55 L553.79,364.30 L553.79,364.05 L553.79,363.80 L553.79,363.55 L553.79,363.30 L553.79,363.05 L553.79,362.80 L553.79,362.55 L553.79,362.30 L553.79,362.05 L553.79,361.80 L553.79,361.55 L553.79,361.30 L553.80,361.05 L553.80,360.80 L553.80,360.55 L553.80,360.30 L553.80,360.05 L553.80,359.80 L553.80,359.55 L553.80,359.30 L553.80,359.05 L553.80,358.80 L553.80,358.55 L553.80,358.30 L553.80,358.05 L553.80,357.80 L553.80,357.55 L553.80,357.30 L553.80,357.05 L553.80,356.80 L553.80,356.55 L553.80,356.30 L553.80,356.05 L553.80,355.80 L553.80,355.55 L553.80,355.30 L553.80,355.05 L553.80,354.80 L553.79,354.55 L553.79,354.30 L553.78,354.05 L553.76,353.80 L553.75,353.55 L553.73,353.30 L553.71,353.05 L553.68,352.80 L553.66,352.55 L553.61,352.30 L553.51,352.05 L553.38,351.80 L553.22,351.55 L553.06,351.30 L552.90,351.05 L552.77,350.80 L552.66,350.55 L552.59,350.30 L552.53,350.05 L552.46,349.80 L552.40,349.55 L552.34,349.30 L552.29,349.05 L552.24,348.80 L552.20,348.55 L552.17,348.30 L552.16,348.05 L552.15,347.80 L552.16,347.55 L552.17,347.30 L552.20,347.05 L552.24,346.80 L552.28,346.55 L552.33,346.30 L552.38,346.05 L552.44,345.80 L552.51,345.55 L552.57,345.30 L552.64,345.05 L552.71,344.80 L552.81,344.55 L552.93,344.30 L553.06,344.05 L553.19,343.80 L553.32,343.55 L553.43,343.30 L553.53,343.05 L553.61,342.80 L553.69,342.55 L553.76,342.30 L553.83,342.05 L553.89,341.80 L553.94,341.55 Z" fill="#0000FF" stroke="#000" stroke-width="2.5" stroke-linejoin="round"/>
<line x1="547.34" y1="375.20" x2="560.96" y2="375.20" stroke="#000" stroke-width="1.7" stroke-dasharray="3.8 3.3"/>
<text x="442.92" y="246.50" font-size="13" font-weight="bold" textLength="115.12" lengthAdjust="spacingAndGlyphs" fill="#000"  xml:space="preserve">i.n. immunization</text>
<rect x="589.75" y="274.75" width="13.40" height="5.80" fill="#AB07E0" stroke="#000" stroke-width="1.9"/>
<rect x="589.75" y="294.25" width="13.40" height="5.50" fill="#0000FF" stroke="#000" stroke-width="1.9"/>
<text x="612.69" y="280.80" font-size="12" textLength="27.95" lengthAdjust="spacingAndGlyphs" fill="#111"  xml:space="preserve">OMV</text>
<text x="639.77" y="283.20" font-size="9.2" textLength="14.98" lengthAdjust="spacingAndGlyphs" fill="#111"  xml:space="preserve">Bru</text>
<text x="612.69" y="300.30" font-size="12" textLength="27.95" lengthAdjust="spacingAndGlyphs" fill="#111"  xml:space="preserve">OMV</text>
<text x="639.79" y="302.30" font-size="9.2" textLength="30.47" lengthAdjust="spacingAndGlyphs" fill="#111"  xml:space="preserve">Bru-M3</text>
<g transform="rotate(-90)">
<text x="-394.71" y="403.00" font-size="12" font-weight="bold" textLength="94.21" lengthAdjust="spacingAndGlyphs" fill="#000"  xml:space="preserve">IgG2a/IgG1 ratio</text>
</g>
<text transform="translate(0.26,13.40) scale(0.1855,0.1991)" x="0" y="0" font-size="100" font-weight="normal" fill="#000" stroke="#000" stroke-width="2.2">A</text>
<text transform="translate(354.22,13.50) scale(0.1607,0.1977)" x="0" y="0" font-size="100" font-weight="bold" fill="#000">B</text>
<text transform="translate(0.20,240.49) scale(0.1697,0.2062)" x="0" y="0" font-size="100" font-weight="bold" fill="#000">C</text>
<text transform="translate(354.32,240.00) scale(0.1909,0.1933)" x="0" y="0" font-size="100" font-weight="bold" fill="#000">D</text>
<text transform="translate(0.73,468.00) scale(0.1453,0.1962)" x="0" y="0" font-size="100" font-weight="bold" fill="#000">E</text>
<text transform="translate(354.74,468.00) scale(0.1440,0.1962)" x="0" y="0" font-size="100" font-weight="bold" fill="#000">F</text>
</svg>
</body></html>
